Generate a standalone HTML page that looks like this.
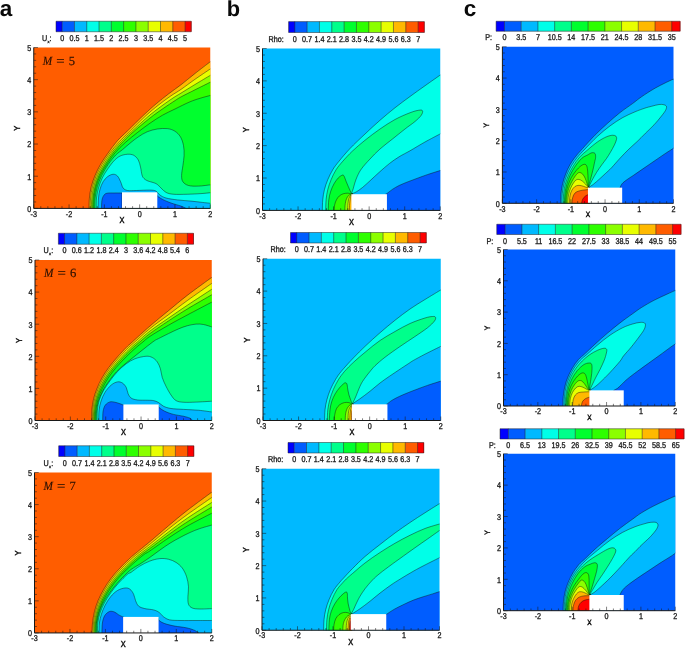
<!DOCTYPE html><html><head><meta charset="utf-8"><title>fig</title>
<style>html,body{margin:0;padding:0;background:#fff}svg{display:block;will-change:transform}text{font-family:"Liberation Sans",sans-serif;text-rendering:geometricPrecision}.pl text{font-weight:bold;font-size:22.5px;fill:#0a0a0a}text.ser{font-family:"Liberation Serif",serif}</style></head><body>
<svg width="685" height="648" viewBox="0 0 685 648">
<rect width="685" height="648" fill="#fff"/>
<clipPath id="clip_a1"><rect x="33.75" y="47.50" width="176.50" height="160.90"/></clipPath>
<rect x="33.75" y="47.50" width="176.50" height="160.90" fill="#FF5D00"/>
<g clip-path="url(#clip_a1)" stroke="#101010" stroke-width="0.45" stroke-linejoin="round">
<path d="M89.00 209.00 C89.07 207.17 89.03 201.71 89.40 198.00 C89.78 194.29 90.32 190.50 91.25 186.75 C92.18 183.00 93.44 179.25 95.00 175.50 C96.56 171.75 98.42 168.00 100.60 164.25 C102.78 160.50 105.28 156.94 108.10 153.00 C110.92 149.06 114.27 144.28 117.50 140.60 C120.73 136.92 123.12 135.17 127.50 130.90 C131.88 126.63 138.96 119.53 143.75 115.00 C148.54 110.47 152.08 107.29 156.25 103.75 C160.42 100.21 164.62 96.92 168.75 93.75 C172.88 90.58 176.62 88.12 181.00 84.75 C185.38 81.38 190.08 77.36 195.00 73.50 C199.92 69.64 207.92 63.58 210.50 61.60 L216.25 61.60 L216.25 214.40 L89.00 214.40 Z" fill="#FFB900"/>
<path d="M90.20 209.00 C90.27 207.17 90.22 201.71 90.60 198.00 C90.98 194.29 91.55 190.50 92.50 186.75 C93.45 183.00 94.68 179.25 96.30 175.50 C97.92 171.75 99.94 168.00 102.20 164.25 C104.46 160.50 106.97 156.75 109.84 153.00 C112.71 149.25 116.14 145.29 119.42 141.75 C122.70 138.21 125.10 136.07 129.50 131.75 C133.90 127.42 140.97 120.26 145.80 115.80 C150.63 111.34 154.30 108.33 158.50 105.00 C162.70 101.67 167.25 98.40 171.00 95.80 C174.75 93.20 177.00 92.15 181.00 89.40 C185.00 86.65 190.08 82.73 195.00 79.30 C199.92 75.87 207.92 70.55 210.50 68.80 L216.25 68.80 L216.25 214.40 L90.20 214.40 Z" fill="#E8FF00"/>
<path d="M91.40 209.00 C91.47 207.17 91.42 201.71 91.80 198.00 C92.18 194.29 92.73 190.50 93.70 186.75 C94.67 183.00 95.93 179.25 97.60 175.50 C99.27 171.75 101.40 168.00 103.70 164.25 C106.00 160.50 108.50 156.75 111.42 153.00 C114.34 149.25 117.86 145.29 121.21 141.75 C124.56 138.21 127.07 135.91 131.50 131.75 C135.93 127.59 142.92 120.99 147.80 116.80 C152.68 112.61 156.60 109.73 160.80 106.60 C165.00 103.47 169.63 100.25 173.00 98.00 C176.37 95.75 177.33 95.35 181.00 93.10 C184.67 90.85 190.08 87.48 195.00 84.50 C199.92 81.52 207.92 76.75 210.50 75.20 L216.25 75.20 L216.25 214.40 L91.40 214.40 Z" fill="#8BFF00"/>
<path d="M92.60 209.00 C92.67 207.17 92.60 201.71 93.00 198.00 C93.40 194.29 94.00 190.50 95.00 186.75 C96.00 183.00 97.28 179.25 99.00 175.50 C100.72 171.75 102.95 168.00 105.30 164.25 C107.65 160.50 110.13 156.75 113.10 153.00 C116.07 149.25 119.70 145.29 123.10 141.75 C126.50 138.21 129.02 135.71 133.50 131.75 C137.98 127.79 145.08 121.86 150.00 118.00 C154.92 114.14 158.83 111.50 163.00 108.60 C167.17 105.70 172.00 102.55 175.00 100.60 C178.00 98.65 177.67 98.70 181.00 96.90 C184.33 95.10 190.08 92.27 195.00 89.80 C199.92 87.33 207.92 83.38 210.50 82.10 L216.25 82.10 L216.25 214.40 L92.60 214.40 Z" fill="#2EFF00"/>
<path d="M93.60 209.00 C93.67 207.17 93.60 201.71 94.00 198.00 C94.40 194.29 94.97 190.50 96.00 186.75 C97.03 183.00 98.40 179.25 100.20 175.50 C102.00 171.75 104.35 168.00 106.80 164.25 C109.25 160.50 111.82 156.62 114.90 153.00 C117.98 149.38 121.53 145.92 125.30 142.50 C129.07 139.08 133.38 135.72 137.50 132.50 C141.62 129.28 145.83 126.08 150.00 123.20 C154.17 120.32 158.33 117.57 162.50 115.20 C166.67 112.83 170.50 111.20 175.00 109.00 C179.50 106.80 185.33 103.78 189.50 102.00 C193.67 100.22 196.50 99.40 200.00 98.30 C203.50 97.20 208.75 95.88 210.50 95.40 L216.25 95.40 L216.25 214.40 L93.60 214.40 Z" fill="#00FF2E"/>
<path d="M94.70 209.00 C94.77 207.17 94.67 201.71 95.10 198.00 C95.53 194.29 96.20 190.50 97.30 186.75 C98.40 183.00 99.87 179.25 101.70 175.50 C103.53 171.75 105.95 167.67 108.30 164.25 C110.65 160.83 113.41 157.46 115.80 155.00 C118.19 152.54 120.12 151.60 122.65 149.50 C125.18 147.40 128.36 144.53 131.00 142.40 C133.64 140.28 135.79 138.53 138.50 136.75 C141.21 134.97 144.12 133.04 147.25 131.75 C150.38 130.46 153.92 129.53 157.25 129.00 C160.58 128.47 164.33 128.25 167.25 128.60 C170.17 128.95 172.56 129.74 174.75 131.10 C176.94 132.46 178.94 134.35 180.40 136.75 C181.86 139.15 182.88 142.38 183.50 145.50 C184.12 148.62 184.20 152.17 184.10 155.50 C184.00 158.83 183.32 162.17 182.90 165.50 C182.48 168.83 181.60 172.79 181.60 175.50 C181.60 178.21 181.75 180.08 182.90 181.75 C184.05 183.42 185.90 184.78 188.50 185.50 C191.10 186.22 194.83 186.22 198.50 186.10 C202.17 185.98 208.50 185.02 210.50 184.80 L216.25 184.80 L216.25 214.40 L94.70 214.40 Z" fill="#00FF8B"/>
<path d="M96.25 209.00 C96.29 207.17 96.12 201.50 96.50 198.00 C96.88 194.50 97.54 191.33 98.50 188.00 C99.46 184.67 100.75 181.12 102.25 178.00 C103.75 174.88 105.58 172.07 107.50 169.25 C109.42 166.43 111.67 163.29 113.75 161.10 C115.83 158.91 117.71 157.24 120.00 156.10 C122.29 154.96 125.21 154.38 127.50 154.25 C129.79 154.12 131.95 154.34 133.75 155.30 C135.55 156.26 137.18 158.05 138.30 160.00 C139.43 161.95 139.88 164.50 140.50 167.00 C141.12 169.50 141.42 173.08 142.00 175.00 C142.58 176.92 143.00 177.50 144.00 178.50 C145.00 179.50 146.00 180.15 148.00 181.00 C150.00 181.85 153.83 182.43 156.00 183.60 C158.17 184.77 159.33 186.53 161.00 188.00 C162.67 189.47 163.92 191.36 166.00 192.40 C168.08 193.44 169.96 193.94 173.50 194.25 C177.04 194.56 182.67 194.36 187.25 194.25 C191.83 194.14 197.12 193.86 201.00 193.60 C204.88 193.34 208.92 192.85 210.50 192.70 L216.25 192.70 L216.25 214.40 L96.25 214.40 Z" fill="#00FFE8"/>
<path d="M98.10 209.00 C98.17 207.17 98.18 201.29 98.50 198.00 C98.82 194.71 99.23 191.96 100.00 189.25 C100.77 186.54 101.85 183.83 103.10 181.75 C104.35 179.67 105.83 178.00 107.50 176.75 C109.17 175.50 111.43 174.36 113.10 174.25 C114.77 174.14 116.25 174.85 117.50 176.10 C118.75 177.35 119.67 179.77 120.60 181.75 C121.53 183.73 121.95 186.54 123.10 188.00 C124.25 189.46 125.31 190.08 127.50 190.50 C129.69 190.92 132.54 190.57 136.25 190.50 C139.96 190.43 146.46 190.00 149.75 190.10 C153.04 190.20 154.33 190.30 156.00 191.10 C157.67 191.90 158.08 193.75 159.75 194.90 C161.42 196.05 163.08 197.17 166.00 198.00 C168.92 198.83 173.08 199.38 177.25 199.90 C181.42 200.42 186.83 200.68 191.00 201.10 C195.17 201.52 199.00 202.03 202.25 202.40 C205.50 202.77 209.12 203.15 210.50 203.30 L216.25 203.30 L216.25 214.40 L98.10 214.40 Z" fill="#00B9FF"/>
<path d="M101.50 209.00 C101.57 207.58 101.53 202.75 101.90 200.50 C102.28 198.25 102.92 196.71 103.75 195.50 C104.58 194.29 105.19 193.67 106.90 193.25 C108.61 192.83 111.61 193.04 114.00 193.00 C116.39 192.96 120.04 193.00 121.25 193.00 L122.00 193.00 L122.00 215.00 L101.50 215.00 Z" fill="#005DFF"/>
<path d="M156.90 193.00 C156.90 193.42 156.01 194.46 156.90 195.50 C157.79 196.54 159.90 198.00 162.25 199.25 C164.60 200.50 167.88 201.86 171.00 203.00 C174.12 204.14 178.50 205.20 181.00 206.10 C183.50 207.00 184.67 207.75 186.00 208.40 C187.33 209.05 188.50 209.73 189.00 210.00 L189.00 215.00 L156.00 215.00 L156.00 193.00 Z" fill="#005DFF"/>
<rect x="122.00" y="192.31" width="35.30" height="18.09" fill="#fff" stroke="none"/>
</g>
<g stroke="#181818" stroke-width="1.0" fill="none">
<path d="M33.75 47.50 V208.40 H210.25"/>
<path d="M33.75 208.40 h4.20 M33.75 201.96 h2.40 M33.75 195.53 h2.40 M33.75 189.09 h2.40 M33.75 182.66 h2.40 M33.75 176.22 h4.20 M33.75 169.78 h2.40 M33.75 163.35 h2.40 M33.75 156.91 h2.40 M33.75 150.48 h2.40 M33.75 144.04 h4.20 M33.75 137.60 h2.40 M33.75 131.17 h2.40 M33.75 124.73 h2.40 M33.75 118.30 h2.40 M33.75 111.86 h4.20 M33.75 105.42 h2.40 M33.75 98.99 h2.40 M33.75 92.55 h2.40 M33.75 86.12 h2.40 M33.75 79.68 h4.20 M33.75 73.24 h2.40 M33.75 66.81 h2.40 M33.75 60.37 h2.40 M33.75 53.94 h2.40 M33.75 47.50 h4.20 M33.75 208.40 v-4.00 M40.81 208.40 v-2.20 M47.87 208.40 v-2.20 M54.93 208.40 v-2.20 M61.99 208.40 v-2.20 M69.05 208.40 v-4.00 M76.11 208.40 v-2.20 M83.17 208.40 v-2.20 M90.23 208.40 v-2.20 M97.29 208.40 v-2.20 M104.35 208.40 v-4.00 M111.41 208.40 v-2.20 M118.47 208.40 v-2.20 M125.53 208.40 v-2.20 M132.59 208.40 v-2.20 M139.65 208.40 v-4.00 M146.71 208.40 v-2.20 M153.77 208.40 v-2.20 M160.83 208.40 v-2.20 M167.89 208.40 v-2.20 M174.95 208.40 v-4.00 M182.01 208.40 v-2.20 M189.07 208.40 v-2.20 M196.13 208.40 v-2.20 M203.19 208.40 v-2.20 M210.25 208.40 v-4.00 " stroke-width="0.55" stroke="#1a1a1a"/>
</g>
<g fill="#151515" stroke="#151515" stroke-width="0.27">
<text transform="translate(31.15 211.70) scale(1 1.170)" font-size="7.20" text-anchor="end">0</text>
<text transform="translate(31.15 179.52) scale(1 1.170)" font-size="7.20" text-anchor="end">1</text>
<text transform="translate(31.15 147.34) scale(1 1.170)" font-size="7.20" text-anchor="end">2</text>
<text transform="translate(31.15 115.16) scale(1 1.170)" font-size="7.20" text-anchor="end">3</text>
<text transform="translate(31.15 82.98) scale(1 1.170)" font-size="7.20" text-anchor="end">4</text>
<text transform="translate(31.15 50.80) scale(1 1.170)" font-size="7.20" text-anchor="end">5</text>
<text transform="translate(33.75 216.60) scale(1 1.170)" font-size="7.20" text-anchor="middle">-3</text>
<text transform="translate(69.05 216.60) scale(1 1.170)" font-size="7.20" text-anchor="middle">-2</text>
<text transform="translate(104.35 216.60) scale(1 1.170)" font-size="7.20" text-anchor="middle">-1</text>
<text transform="translate(139.65 216.60) scale(1 1.170)" font-size="7.20" text-anchor="middle">0</text>
<text transform="translate(174.95 216.60) scale(1 1.170)" font-size="7.20" text-anchor="middle">1</text>
<text transform="translate(210.25 216.60) scale(1 1.170)" font-size="7.20" text-anchor="middle">2</text>
<text stroke-width="0.4" transform="translate(122.00 222.90) scale(1 1.170)" font-size="7.40" text-anchor="middle">X</text>
<text stroke-width="0.4" transform="translate(20.25 128.25) rotate(-90) scale(1 1.170)" font-size="7.40" text-anchor="middle">Y</text>
</g>
<rect x="56.00" y="21.25" width="6.45" height="10.50" fill="#0000FF"/>
<rect x="62.15" y="21.25" width="12.60" height="10.50" fill="#005DFF"/>
<rect x="74.44" y="21.25" width="12.60" height="10.50" fill="#00B9FF"/>
<rect x="86.74" y="21.25" width="12.60" height="10.50" fill="#00FFE8"/>
<rect x="99.03" y="21.25" width="12.60" height="10.50" fill="#00FF8B"/>
<rect x="111.33" y="21.25" width="12.60" height="10.50" fill="#00FF2E"/>
<rect x="123.62" y="21.25" width="12.60" height="10.50" fill="#2EFF00"/>
<rect x="135.92" y="21.25" width="12.60" height="10.50" fill="#8BFF00"/>
<rect x="148.22" y="21.25" width="12.60" height="10.50" fill="#E8FF00"/>
<rect x="160.51" y="21.25" width="12.60" height="10.50" fill="#FFB900"/>
<rect x="172.81" y="21.25" width="12.60" height="10.50" fill="#FF5D00"/>
<rect x="185.10" y="21.25" width="6.45" height="10.50" fill="#FF0000"/>
<path d="M56.00 21.25 H191.25 V31.75 H56.00 Z M62.15 21.25 V31.75 M74.44 21.25 V31.75 M86.74 21.25 V31.75 M99.03 21.25 V31.75 M111.33 21.25 V31.75 M123.62 21.25 V31.75 M135.92 21.25 V31.75 M148.22 21.25 V31.75 M160.51 21.25 V31.75 M172.81 21.25 V31.75 M185.10 21.25 V31.75 " stroke="#202020" stroke-width="0.5" fill="none"/>
<g fill="#151515" stroke="#151515" stroke-width="0.27">
<text transform="translate(62.15 40.95) scale(1 1.170)" font-size="7.20" text-anchor="middle">0</text>
<text transform="translate(74.44 40.95) scale(1 1.170)" font-size="7.20" text-anchor="middle">0.5</text>
<text transform="translate(86.74 40.95) scale(1 1.170)" font-size="7.20" text-anchor="middle">1</text>
<text transform="translate(99.03 40.95) scale(1 1.170)" font-size="7.20" text-anchor="middle">1.5</text>
<text transform="translate(111.33 40.95) scale(1 1.170)" font-size="7.20" text-anchor="middle">2</text>
<text transform="translate(123.62 40.95) scale(1 1.170)" font-size="7.20" text-anchor="middle">2.5</text>
<text transform="translate(135.92 40.95) scale(1 1.170)" font-size="7.20" text-anchor="middle">3</text>
<text transform="translate(148.22 40.95) scale(1 1.170)" font-size="7.20" text-anchor="middle">3.5</text>
<text transform="translate(160.51 40.95) scale(1 1.170)" font-size="7.20" text-anchor="middle">4</text>
<text transform="translate(172.81 40.95) scale(1 1.170)" font-size="7.20" text-anchor="middle">4.5</text>
<text transform="translate(185.10 40.95) scale(1 1.170)" font-size="7.20" text-anchor="middle">5</text>
<text transform="translate(42.00 40.95) scale(1 1.170)" font-size="7.20">U</text>
<text transform="translate(48.50 42.85) scale(1 1.000)" font-size="4.00" text-anchor="middle">x</text>
<text transform="translate(49.60 40.95) scale(1 1.170)" font-size="7.20">:</text>
</g>
<g class="ser" fill="#2a1000" stroke="#2a1000" stroke-width="0.16" font-size="12.6">
<text class="ser" x="0.00" y="64.60" font-style="italic" transform="translate(42.65 0) scale(0.9 1)">M</text>
<text class="ser" x="0.00" y="64.80" transform="translate(56.35 0) scale(1.18 1)">=</text>
<text class="ser" x="68.75" y="64.60">5</text>
</g>
<clipPath id="clip_a2"><rect x="35.00" y="260.00" width="176.75" height="160.50"/></clipPath>
<rect x="35.00" y="260.00" width="176.75" height="160.50" fill="#FF5D00"/>
<g clip-path="url(#clip_a2)" stroke="#101010" stroke-width="0.45" stroke-linejoin="round">
<path d="M91.60 421.00 C91.63 419.17 91.47 413.71 91.80 410.00 C92.13 406.29 92.75 402.29 93.60 398.75 C94.45 395.21 95.52 392.19 96.90 388.75 C98.28 385.31 99.93 381.64 101.90 378.10 C103.88 374.56 106.15 371.03 108.75 367.50 C111.35 363.97 114.58 360.23 117.50 356.90 C120.42 353.57 123.79 349.98 126.25 347.50 C128.71 345.02 128.29 345.58 132.25 342.00 C136.21 338.42 143.96 331.22 150.00 326.00 C156.04 320.78 162.29 315.80 168.50 310.70 C174.71 305.60 180.00 300.98 187.25 295.40 C194.50 289.82 207.88 280.23 212.00 277.20 L217.75 277.20 L217.75 426.50 L91.60 426.50 Z" fill="#FFB900"/>
<path d="M92.50 421.00 C92.54 419.17 92.40 413.71 92.77 410.00 C93.14 406.29 93.81 402.29 94.71 398.75 C95.61 395.21 96.73 392.19 98.18 388.75 C99.63 385.31 101.35 381.64 103.40 378.10 C105.46 374.56 107.82 371.03 110.51 367.50 C113.20 363.97 116.53 360.23 119.55 356.90 C122.56 353.57 126.04 349.98 128.58 347.50 C131.11 345.02 131.18 345.17 134.75 342.00 C138.32 338.83 144.38 333.05 150.00 328.50 C155.62 323.95 162.29 319.35 168.50 314.70 C174.71 310.05 180.00 305.85 187.25 300.60 C194.50 295.35 207.88 286.10 212.00 283.20 L217.75 283.20 L217.75 426.50 L92.50 426.50 Z" fill="#E8FF00"/>
<path d="M93.40 421.00 C93.46 419.17 93.33 413.71 93.74 410.00 C94.14 406.29 94.87 402.29 95.82 398.75 C96.78 395.21 97.95 392.19 99.46 388.75 C100.98 385.31 102.77 381.64 104.90 378.10 C107.04 374.56 109.48 371.03 112.27 367.50 C115.05 363.97 118.48 360.23 121.59 356.90 C124.70 353.57 128.29 349.98 130.90 347.50 C133.51 345.02 134.07 344.75 137.25 342.00 C140.43 339.25 144.79 334.98 150.00 331.00 C155.21 327.02 162.29 322.38 168.50 318.10 C174.71 313.82 180.00 310.13 187.25 305.30 C194.50 300.47 207.88 291.80 212.00 289.10 L217.75 289.10 L217.75 426.50 L93.40 426.50 Z" fill="#8BFF00"/>
<path d="M94.30 421.00 C94.37 419.17 94.27 413.71 94.70 410.00 C95.14 406.29 95.93 402.29 96.93 398.75 C97.94 395.21 99.17 392.19 100.74 388.75 C102.32 385.31 104.19 381.64 106.41 378.10 C108.62 374.56 111.15 371.03 114.02 367.50 C116.89 363.97 120.44 360.23 123.64 356.90 C126.84 353.57 130.54 349.98 133.23 347.50 C135.91 345.02 136.95 344.33 139.75 342.00 C142.55 339.67 145.21 337.02 150.00 333.50 C154.79 329.98 162.29 324.98 168.50 320.90 C174.71 316.82 180.00 313.38 187.25 309.00 C194.50 304.62 207.88 297.00 212.00 294.60 L217.75 294.60 L217.75 426.50 L94.30 426.50 Z" fill="#2EFF00"/>
<path d="M95.20 421.00 C95.28 419.17 95.21 413.71 95.70 410.00 C96.19 406.29 97.05 402.29 98.13 398.75 C99.21 395.21 100.51 392.19 102.18 388.75 C103.85 385.31 105.83 381.64 108.15 378.10 C110.48 374.56 113.13 371.03 116.13 367.50 C119.13 363.97 122.81 360.23 126.15 356.90 C129.48 353.57 133.34 349.98 136.13 347.50 C138.92 345.02 140.59 343.87 142.90 342.00 C145.21 340.13 145.73 339.10 150.00 336.30 C154.27 333.50 162.29 328.75 168.50 325.20 C174.71 321.65 180.00 318.87 187.25 315.00 C194.50 311.13 207.88 304.17 212.00 302.00 L217.75 302.00 L217.75 426.50 L95.20 426.50 Z" fill="#00FF2E"/>
<path d="M96.20 421.00 C96.25 419.38 96.13 414.54 96.50 411.25 C96.87 407.96 97.40 404.58 98.40 401.25 C99.40 397.92 100.78 394.58 102.50 391.25 C104.22 387.92 106.46 384.46 108.75 381.25 C111.04 378.04 113.54 374.88 116.25 372.00 C118.96 369.12 121.88 366.67 125.00 364.00 C128.12 361.33 131.67 358.67 135.00 356.00 C138.33 353.33 141.82 350.50 145.00 348.00 C148.18 345.50 151.85 342.57 154.10 341.00 C156.35 339.43 156.10 339.83 158.50 338.60 C160.90 337.37 165.17 335.22 168.50 333.60 C171.83 331.98 175.38 330.21 178.50 328.90 C181.62 327.59 184.33 326.55 187.25 325.75 C190.17 324.95 193.29 324.31 196.00 324.10 C198.71 323.89 200.83 324.02 203.50 324.50 C206.17 324.98 210.58 326.58 212.00 327.00 L217.75 327.00 L217.75 426.50 L96.20 426.50 Z" fill="#00FF8B"/>
<path d="M97.10 421.00 C97.15 419.17 97.03 413.50 97.40 410.00 C97.77 406.50 98.23 403.33 99.30 400.00 C100.37 396.67 101.92 393.33 103.80 390.00 C105.68 386.67 108.27 383.12 110.60 380.00 C112.93 376.88 115.19 373.96 117.80 371.25 C120.41 368.54 123.38 365.83 126.25 363.75 C129.12 361.67 131.71 360.00 135.00 358.75 C138.29 357.50 143.12 356.46 146.00 356.25 C148.88 356.04 150.38 356.56 152.25 357.50 C154.12 358.44 155.89 360.02 157.25 361.90 C158.61 363.77 159.57 366.15 160.40 368.75 C161.23 371.35 161.32 374.58 162.25 377.50 C163.18 380.42 164.54 383.33 166.00 386.25 C167.46 389.17 169.33 392.61 171.00 395.00 C172.67 397.39 173.92 399.39 176.00 400.60 C178.08 401.81 180.17 402.00 183.50 402.25 C186.83 402.50 191.25 402.28 196.00 402.10 C200.75 401.93 209.33 401.35 212.00 401.20 L217.75 401.20 L217.75 426.50 L97.10 426.50 Z" fill="#00FFE8"/>
<path d="M98.70 421.00 C98.77 419.17 98.72 413.29 99.10 410.00 C99.48 406.71 100.03 404.17 101.00 401.25 C101.97 398.33 103.19 395.21 104.90 392.50 C106.61 389.79 109.15 386.77 111.25 385.00 C113.35 383.23 115.62 382.22 117.50 381.90 C119.38 381.58 121.04 382.17 122.50 383.10 C123.96 384.03 125.32 385.73 126.25 387.50 C127.18 389.27 127.27 391.98 128.10 393.75 C128.93 395.52 129.68 397.06 131.25 398.10 C132.82 399.14 134.79 399.64 137.50 400.00 C140.21 400.36 144.83 400.15 147.50 400.25 C150.17 400.35 151.67 400.23 153.50 400.60 C155.33 400.98 156.83 401.56 158.50 402.50 C160.17 403.44 161.42 405.25 163.50 406.25 C165.58 407.25 167.67 407.98 171.00 408.50 C174.33 409.02 178.92 409.11 183.50 409.40 C188.08 409.69 193.75 409.82 198.50 410.25 C203.25 410.68 209.75 411.71 212.00 412.00 L217.75 412.00 L217.75 426.50 L98.70 426.50 Z" fill="#00B9FF"/>
<path d="M102.70 421.00 C102.77 419.38 102.65 413.92 103.10 411.25 C103.55 408.58 104.25 406.56 105.40 405.00 C106.55 403.44 108.40 402.36 110.00 401.90 C111.60 401.44 113.33 401.94 115.00 402.25 C116.67 402.56 118.65 403.29 120.00 403.75 C121.35 404.21 122.58 404.79 123.10 405.00 L124.38 405.00 L124.38 426.50 L102.70 426.50 Z" fill="#005DFF"/>
<path d="M157.90 405.00 C158.10 405.42 157.96 406.46 159.10 407.50 C160.24 408.54 162.35 410.10 164.75 411.25 C167.15 412.40 170.38 413.57 173.50 414.40 C176.62 415.23 180.79 415.63 183.50 416.25 C186.21 416.87 188.29 417.48 189.75 418.10 C191.21 418.73 191.54 419.35 192.25 420.00 C192.96 420.65 193.71 421.67 194.00 422.00 L194.00 426.50 L157.72 426.50 L157.72 405.00 Z" fill="#005DFF"/>
<rect x="123.38" y="404.45" width="35.35" height="18.05" fill="#fff" stroke="none"/>
</g>
<g stroke="#181818" stroke-width="1.0" fill="none">
<path d="M35.00 260.00 V420.50 H211.75"/>
<path d="M35.00 420.50 h4.20 M35.00 414.08 h2.40 M35.00 407.66 h2.40 M35.00 401.24 h2.40 M35.00 394.82 h2.40 M35.00 388.40 h4.20 M35.00 381.98 h2.40 M35.00 375.56 h2.40 M35.00 369.14 h2.40 M35.00 362.72 h2.40 M35.00 356.30 h4.20 M35.00 349.88 h2.40 M35.00 343.46 h2.40 M35.00 337.04 h2.40 M35.00 330.62 h2.40 M35.00 324.20 h4.20 M35.00 317.78 h2.40 M35.00 311.36 h2.40 M35.00 304.94 h2.40 M35.00 298.52 h2.40 M35.00 292.10 h4.20 M35.00 285.68 h2.40 M35.00 279.26 h2.40 M35.00 272.84 h2.40 M35.00 266.42 h2.40 M35.00 260.00 h4.20 M35.00 420.50 v-4.00 M42.07 420.50 v-2.20 M49.14 420.50 v-2.20 M56.21 420.50 v-2.20 M63.28 420.50 v-2.20 M70.35 420.50 v-4.00 M77.42 420.50 v-2.20 M84.49 420.50 v-2.20 M91.56 420.50 v-2.20 M98.63 420.50 v-2.20 M105.70 420.50 v-4.00 M112.77 420.50 v-2.20 M119.84 420.50 v-2.20 M126.91 420.50 v-2.20 M133.98 420.50 v-2.20 M141.05 420.50 v-4.00 M148.12 420.50 v-2.20 M155.19 420.50 v-2.20 M162.26 420.50 v-2.20 M169.33 420.50 v-2.20 M176.40 420.50 v-4.00 M183.47 420.50 v-2.20 M190.54 420.50 v-2.20 M197.61 420.50 v-2.20 M204.68 420.50 v-2.20 M211.75 420.50 v-4.00 " stroke-width="0.55" stroke="#1a1a1a"/>
</g>
<g fill="#151515" stroke="#151515" stroke-width="0.27">
<text transform="translate(32.40 423.80) scale(1 1.170)" font-size="7.20" text-anchor="end">0</text>
<text transform="translate(32.40 391.70) scale(1 1.170)" font-size="7.20" text-anchor="end">1</text>
<text transform="translate(32.40 359.60) scale(1 1.170)" font-size="7.20" text-anchor="end">2</text>
<text transform="translate(32.40 327.50) scale(1 1.170)" font-size="7.20" text-anchor="end">3</text>
<text transform="translate(32.40 295.40) scale(1 1.170)" font-size="7.20" text-anchor="end">4</text>
<text transform="translate(32.40 263.30) scale(1 1.170)" font-size="7.20" text-anchor="end">5</text>
<text transform="translate(35.00 428.70) scale(1 1.170)" font-size="7.20" text-anchor="middle">-3</text>
<text transform="translate(70.35 428.70) scale(1 1.170)" font-size="7.20" text-anchor="middle">-2</text>
<text transform="translate(105.70 428.70) scale(1 1.170)" font-size="7.20" text-anchor="middle">-1</text>
<text transform="translate(141.05 428.70) scale(1 1.170)" font-size="7.20" text-anchor="middle">0</text>
<text transform="translate(176.40 428.70) scale(1 1.170)" font-size="7.20" text-anchor="middle">1</text>
<text transform="translate(211.75 428.70) scale(1 1.170)" font-size="7.20" text-anchor="middle">2</text>
<text stroke-width="0.4" transform="translate(123.38 435.00) scale(1 1.170)" font-size="7.40" text-anchor="middle">X</text>
<text stroke-width="0.4" transform="translate(21.50 340.55) rotate(-90) scale(1 1.170)" font-size="7.40" text-anchor="middle">Y</text>
</g>
<rect x="58.40" y="233.25" width="6.44" height="11.00" fill="#0000FF"/>
<rect x="64.54" y="233.25" width="12.58" height="11.00" fill="#005DFF"/>
<rect x="76.82" y="233.25" width="12.58" height="11.00" fill="#00B9FF"/>
<rect x="89.10" y="233.25" width="12.58" height="11.00" fill="#00FFE8"/>
<rect x="101.39" y="233.25" width="12.58" height="11.00" fill="#00FF8B"/>
<rect x="113.67" y="233.25" width="12.58" height="11.00" fill="#00FF2E"/>
<rect x="125.95" y="233.25" width="12.58" height="11.00" fill="#2EFF00"/>
<rect x="138.23" y="233.25" width="12.58" height="11.00" fill="#8BFF00"/>
<rect x="150.51" y="233.25" width="12.58" height="11.00" fill="#E8FF00"/>
<rect x="162.80" y="233.25" width="12.58" height="11.00" fill="#FFB900"/>
<rect x="175.08" y="233.25" width="12.58" height="11.00" fill="#FF5D00"/>
<rect x="187.36" y="233.25" width="6.44" height="11.00" fill="#FF0000"/>
<path d="M58.40 233.25 H193.50 V244.25 H58.40 Z M64.54 233.25 V244.25 M76.82 233.25 V244.25 M89.10 233.25 V244.25 M101.39 233.25 V244.25 M113.67 233.25 V244.25 M125.95 233.25 V244.25 M138.23 233.25 V244.25 M150.51 233.25 V244.25 M162.80 233.25 V244.25 M175.08 233.25 V244.25 M187.36 233.25 V244.25 " stroke="#202020" stroke-width="0.5" fill="none"/>
<g fill="#151515" stroke="#151515" stroke-width="0.27">
<text transform="translate(64.54 253.45) scale(1 1.170)" font-size="7.20" text-anchor="middle">0</text>
<text transform="translate(76.82 253.45) scale(1 1.170)" font-size="7.20" text-anchor="middle">0.6</text>
<text transform="translate(89.10 253.45) scale(1 1.170)" font-size="7.20" text-anchor="middle">1.2</text>
<text transform="translate(101.39 253.45) scale(1 1.170)" font-size="7.20" text-anchor="middle">1.8</text>
<text transform="translate(113.67 253.45) scale(1 1.170)" font-size="7.20" text-anchor="middle">2.4</text>
<text transform="translate(125.95 253.45) scale(1 1.170)" font-size="7.20" text-anchor="middle">3</text>
<text transform="translate(138.23 253.45) scale(1 1.170)" font-size="7.20" text-anchor="middle">3.6</text>
<text transform="translate(150.51 253.45) scale(1 1.170)" font-size="7.20" text-anchor="middle">4.2</text>
<text transform="translate(162.80 253.45) scale(1 1.170)" font-size="7.20" text-anchor="middle">4.8</text>
<text transform="translate(175.08 253.45) scale(1 1.170)" font-size="7.20" text-anchor="middle">5.4</text>
<text transform="translate(187.36 253.45) scale(1 1.170)" font-size="7.20" text-anchor="middle">6</text>
<text transform="translate(43.60 253.45) scale(1 1.170)" font-size="7.20">U</text>
<text transform="translate(50.10 255.35) scale(1 1.000)" font-size="4.00" text-anchor="middle">x</text>
<text transform="translate(51.20 253.45) scale(1 1.170)" font-size="7.20">:</text>
</g>
<g class="ser" fill="#2a1000" stroke="#2a1000" stroke-width="0.16" font-size="12.6">
<text class="ser" x="0.00" y="277.10" font-style="italic" transform="translate(43.90 0) scale(0.9 1)">M</text>
<text class="ser" x="0.00" y="277.30" transform="translate(57.60 0) scale(1.18 1)">=</text>
<text class="ser" x="70.00" y="277.10">6</text>
</g>
<clipPath id="clip_a3"><rect x="34.50" y="472.50" width="177.25" height="160.45"/></clipPath>
<rect x="34.50" y="472.50" width="177.25" height="160.45" fill="#FF5D00"/>
<g clip-path="url(#clip_a3)" stroke="#101010" stroke-width="0.45" stroke-linejoin="round">
<path d="M91.90 633.50 C92.00 631.75 92.08 626.62 92.50 623.00 C92.92 619.38 93.47 615.50 94.40 611.75 C95.33 608.00 96.54 604.25 98.10 600.50 C99.66 596.75 101.56 593.00 103.75 589.25 C105.94 585.50 108.54 581.54 111.25 578.00 C113.96 574.46 117.08 571.12 120.00 568.00 C122.92 564.88 126.29 561.58 128.75 559.25 C131.21 556.92 131.25 556.91 134.75 554.00 C138.25 551.09 144.12 546.50 149.75 541.80 C155.38 537.10 162.25 531.03 168.50 525.80 C174.75 520.57 180.00 516.03 187.25 510.40 C194.50 504.77 207.88 495.07 212.00 492.00 L217.75 492.00 L217.75 638.95 L91.90 638.95 Z" fill="#FFB900"/>
<path d="M92.80 633.50 C92.91 631.75 93.01 626.62 93.46 623.00 C93.91 619.38 94.51 615.50 95.50 611.75 C96.49 608.00 97.76 604.25 99.39 600.50 C101.02 596.75 103.00 593.00 105.28 589.25 C107.55 585.50 110.25 581.54 113.05 578.00 C115.85 574.46 119.07 571.12 122.07 568.00 C125.08 564.88 128.55 561.58 131.08 559.25 C133.61 556.92 134.14 556.49 137.25 554.00 C140.36 551.51 144.54 548.48 149.75 544.30 C154.96 540.12 162.25 533.85 168.50 528.90 C174.75 523.95 180.00 519.87 187.25 514.60 C194.50 509.33 207.88 500.18 212.00 497.30 L217.75 497.30 L217.75 638.95 L92.80 638.95 Z" fill="#E8FF00"/>
<path d="M93.70 633.50 C93.82 631.75 93.94 626.62 94.43 623.00 C94.91 619.38 95.56 615.50 96.60 611.75 C97.65 608.00 98.98 604.25 100.68 600.50 C102.38 596.75 104.44 593.00 106.80 589.25 C109.16 585.50 111.96 581.54 114.85 578.00 C117.74 574.46 121.05 571.12 124.15 568.00 C127.24 564.88 130.82 561.58 133.42 559.25 C136.02 556.92 137.03 556.12 139.75 554.00 C142.47 551.88 144.96 550.17 149.75 546.50 C154.54 542.83 162.25 536.72 168.50 532.00 C174.75 527.28 180.00 523.15 187.25 518.20 C194.50 513.25 207.88 504.95 212.00 502.30 L217.75 502.30 L217.75 638.95 L93.70 638.95 Z" fill="#8BFF00"/>
<path d="M94.60 633.50 C94.73 631.75 94.87 626.62 95.39 623.00 C95.91 619.38 96.61 615.50 97.70 611.75 C98.80 608.00 100.20 604.25 101.98 600.50 C103.75 596.75 105.88 593.00 108.33 589.25 C110.78 585.50 113.67 581.54 116.65 578.00 C119.63 574.46 123.04 571.12 126.22 568.00 C129.40 564.88 133.08 561.58 135.75 559.25 C138.42 556.92 139.92 555.77 142.25 554.00 C144.58 552.23 145.38 551.82 149.75 548.60 C154.12 545.38 162.25 539.15 168.50 534.70 C174.75 530.25 180.00 526.53 187.25 521.90 C194.50 517.27 207.88 509.40 212.00 506.90 L217.75 506.90 L217.75 638.95 L94.60 638.95 Z" fill="#2EFF00"/>
<path d="M95.50 633.50 C95.64 631.75 95.80 626.62 96.35 623.00 C96.90 619.38 97.65 615.50 98.80 611.75 C99.96 608.00 101.43 604.25 103.27 600.50 C105.11 596.75 107.33 593.00 109.86 589.25 C112.39 585.50 115.38 581.54 118.45 578.00 C121.52 574.46 125.02 571.12 128.29 568.00 C131.57 564.88 135.34 561.58 138.09 559.25 C140.83 556.92 142.81 555.38 144.75 554.00 C146.69 552.62 145.79 553.67 149.75 551.00 C153.71 548.33 162.25 542.15 168.50 538.00 C174.75 533.85 180.00 530.25 187.25 526.10 C194.50 521.95 207.88 515.27 212.00 513.10 L217.75 513.10 L217.75 638.95 L95.50 638.95 Z" fill="#00FF2E"/>
<path d="M96.50 633.50 C96.57 631.75 96.48 626.42 96.90 623.00 C97.32 619.58 97.97 616.33 99.00 613.00 C100.03 609.67 101.37 606.33 103.10 603.00 C104.83 599.67 107.12 596.23 109.40 593.00 C111.68 589.77 114.28 586.52 116.80 583.60 C119.32 580.68 122.13 577.85 124.50 575.50 C126.87 573.15 128.42 571.42 131.00 569.50 C133.58 567.58 136.83 566.03 140.00 564.00 C143.17 561.97 146.67 559.63 150.00 557.30 C153.33 554.97 156.67 552.35 160.00 550.00 C163.33 547.65 166.67 545.28 170.00 543.20 C173.33 541.12 176.67 539.28 180.00 537.50 C183.33 535.72 186.71 533.98 190.00 532.50 C193.29 531.02 196.08 529.85 199.75 528.60 C203.42 527.35 209.96 525.60 212.00 525.00 L217.75 525.00 L217.75 638.95 L96.50 638.95 Z" fill="#00FF8B"/>
<path d="M97.40 633.50 C97.47 631.75 97.37 626.42 97.80 623.00 C98.23 619.58 98.90 616.33 100.00 613.00 C101.10 609.67 102.63 606.33 104.40 603.00 C106.17 599.67 108.32 596.23 110.60 593.00 C112.88 589.77 115.28 586.73 118.10 583.60 C120.92 580.48 125.35 576.12 127.50 574.25 C129.65 572.38 128.96 573.76 131.00 572.40 C133.04 571.04 136.62 567.98 139.75 566.10 C142.88 564.22 146.42 562.35 149.75 561.10 C153.08 559.85 156.62 558.91 159.75 558.60 C162.88 558.29 165.79 558.62 168.50 559.25 C171.21 559.88 173.71 560.94 176.00 562.40 C178.29 563.86 180.48 565.61 182.25 568.00 C184.02 570.39 185.56 573.62 186.60 576.75 C187.64 579.88 188.28 583.42 188.50 586.75 C188.72 590.08 187.90 593.83 187.90 596.75 C187.90 599.67 187.78 602.38 188.50 604.25 C189.22 606.12 190.38 607.21 192.25 608.00 C194.12 608.79 196.46 608.90 199.75 609.00 C203.04 609.10 209.96 608.67 212.00 608.60 L217.75 608.60 L217.75 638.95 L97.40 638.95 Z" fill="#00FFE8"/>
<path d="M99.00 633.50 C99.07 631.75 99.00 626.21 99.40 623.00 C99.80 619.79 100.47 617.17 101.40 614.25 C102.33 611.33 103.47 608.42 105.00 605.50 C106.53 602.58 108.52 599.25 110.60 596.75 C112.68 594.25 115.10 591.96 117.50 590.50 C119.90 589.04 122.92 588.21 125.00 588.00 C127.08 587.79 128.57 588.21 130.00 589.25 C131.43 590.29 132.68 592.38 133.60 594.25 C134.52 596.12 134.67 598.52 135.50 600.50 C136.33 602.48 137.05 604.75 138.60 606.10 C140.15 607.45 142.32 607.97 144.80 608.60 C147.28 609.23 151.12 609.27 153.50 609.90 C155.88 610.53 157.43 611.26 159.10 612.40 C160.77 613.54 161.72 615.50 163.50 616.75 C165.28 618.00 166.83 619.27 169.75 619.90 C172.67 620.52 176.62 620.40 181.00 620.50 C185.38 620.60 190.83 620.50 196.00 620.50 C201.17 620.50 209.33 620.50 212.00 620.50 L217.75 620.50 L217.75 638.95 L99.00 638.95 Z" fill="#00B9FF"/>
<path d="M101.90 633.50 C101.98 631.75 101.92 626.00 102.40 623.00 C102.88 620.00 103.60 617.42 104.80 615.50 C106.00 613.58 108.00 612.08 109.60 611.50 C111.20 610.92 112.88 611.43 114.40 612.00 C115.93 612.57 117.30 614.07 118.75 614.90 C120.20 615.73 122.38 616.65 123.10 617.00 L124.12 617.00 L124.12 638.95 L101.90 638.95 Z" fill="#005DFF"/>
<path d="M157.90 617.40 C158.10 617.92 157.96 619.47 159.10 620.50 C160.24 621.53 162.14 622.67 164.75 623.60 C167.36 624.53 171.21 625.41 174.75 626.10 C178.29 626.79 182.88 627.12 186.00 627.75 C189.12 628.38 191.52 629.12 193.50 629.90 C195.48 630.67 196.82 631.63 197.90 632.40 C198.98 633.17 199.65 634.15 200.00 634.50 L200.00 638.95 L157.57 638.95 L157.57 617.40 Z" fill="#005DFF"/>
<rect x="123.12" y="616.91" width="35.45" height="18.04" fill="#fff" stroke="none"/>
</g>
<g stroke="#181818" stroke-width="1.0" fill="none">
<path d="M34.50 472.50 V632.95 H211.75"/>
<path d="M34.50 632.95 h4.20 M34.50 626.53 h2.40 M34.50 620.11 h2.40 M34.50 613.70 h2.40 M34.50 607.28 h2.40 M34.50 600.86 h4.20 M34.50 594.44 h2.40 M34.50 588.02 h2.40 M34.50 581.61 h2.40 M34.50 575.19 h2.40 M34.50 568.77 h4.20 M34.50 562.35 h2.40 M34.50 555.93 h2.40 M34.50 549.52 h2.40 M34.50 543.10 h2.40 M34.50 536.68 h4.20 M34.50 530.26 h2.40 M34.50 523.84 h2.40 M34.50 517.43 h2.40 M34.50 511.01 h2.40 M34.50 504.59 h4.20 M34.50 498.17 h2.40 M34.50 491.75 h2.40 M34.50 485.34 h2.40 M34.50 478.92 h2.40 M34.50 472.50 h4.20 M34.50 632.95 v-4.00 M41.59 632.95 v-2.20 M48.68 632.95 v-2.20 M55.77 632.95 v-2.20 M62.86 632.95 v-2.20 M69.95 632.95 v-4.00 M77.04 632.95 v-2.20 M84.13 632.95 v-2.20 M91.22 632.95 v-2.20 M98.31 632.95 v-2.20 M105.40 632.95 v-4.00 M112.49 632.95 v-2.20 M119.58 632.95 v-2.20 M126.67 632.95 v-2.20 M133.76 632.95 v-2.20 M140.85 632.95 v-4.00 M147.94 632.95 v-2.20 M155.03 632.95 v-2.20 M162.12 632.95 v-2.20 M169.21 632.95 v-2.20 M176.30 632.95 v-4.00 M183.39 632.95 v-2.20 M190.48 632.95 v-2.20 M197.57 632.95 v-2.20 M204.66 632.95 v-2.20 M211.75 632.95 v-4.00 " stroke-width="0.55" stroke="#1a1a1a"/>
</g>
<g fill="#151515" stroke="#151515" stroke-width="0.27">
<text transform="translate(31.90 636.25) scale(1 1.170)" font-size="7.20" text-anchor="end">0</text>
<text transform="translate(31.90 604.16) scale(1 1.170)" font-size="7.20" text-anchor="end">1</text>
<text transform="translate(31.90 572.07) scale(1 1.170)" font-size="7.20" text-anchor="end">2</text>
<text transform="translate(31.90 539.98) scale(1 1.170)" font-size="7.20" text-anchor="end">3</text>
<text transform="translate(31.90 507.89) scale(1 1.170)" font-size="7.20" text-anchor="end">4</text>
<text transform="translate(31.90 475.80) scale(1 1.170)" font-size="7.20" text-anchor="end">5</text>
<text transform="translate(34.50 641.15) scale(1 1.170)" font-size="7.20" text-anchor="middle">-3</text>
<text transform="translate(69.95 641.15) scale(1 1.170)" font-size="7.20" text-anchor="middle">-2</text>
<text transform="translate(105.40 641.15) scale(1 1.170)" font-size="7.20" text-anchor="middle">-1</text>
<text transform="translate(140.85 641.15) scale(1 1.170)" font-size="7.20" text-anchor="middle">0</text>
<text transform="translate(176.30 641.15) scale(1 1.170)" font-size="7.20" text-anchor="middle">1</text>
<text transform="translate(211.75 641.15) scale(1 1.170)" font-size="7.20" text-anchor="middle">2</text>
<text stroke-width="0.4" transform="translate(123.12 647.45) scale(1 1.170)" font-size="7.40" text-anchor="middle">X</text>
<text stroke-width="0.4" transform="translate(21.00 553.02) rotate(-90) scale(1 1.170)" font-size="7.40" text-anchor="middle">Y</text>
</g>
<rect x="58.70" y="445.75" width="6.44" height="10.75" fill="#0000FF"/>
<rect x="64.84" y="445.75" width="12.58" height="10.75" fill="#005DFF"/>
<rect x="77.12" y="445.75" width="12.58" height="10.75" fill="#00B9FF"/>
<rect x="89.40" y="445.75" width="12.58" height="10.75" fill="#00FFE8"/>
<rect x="101.69" y="445.75" width="12.58" height="10.75" fill="#00FF8B"/>
<rect x="113.97" y="445.75" width="12.58" height="10.75" fill="#00FF2E"/>
<rect x="126.25" y="445.75" width="12.58" height="10.75" fill="#2EFF00"/>
<rect x="138.53" y="445.75" width="12.58" height="10.75" fill="#8BFF00"/>
<rect x="150.81" y="445.75" width="12.58" height="10.75" fill="#E8FF00"/>
<rect x="163.10" y="445.75" width="12.58" height="10.75" fill="#FFB900"/>
<rect x="175.38" y="445.75" width="12.58" height="10.75" fill="#FF5D00"/>
<rect x="187.66" y="445.75" width="6.44" height="10.75" fill="#FF0000"/>
<path d="M58.70 445.75 H193.80 V456.50 H58.70 Z M64.84 445.75 V456.50 M77.12 445.75 V456.50 M89.40 445.75 V456.50 M101.69 445.75 V456.50 M113.97 445.75 V456.50 M126.25 445.75 V456.50 M138.53 445.75 V456.50 M150.81 445.75 V456.50 M163.10 445.75 V456.50 M175.38 445.75 V456.50 M187.66 445.75 V456.50 " stroke="#202020" stroke-width="0.5" fill="none"/>
<g fill="#151515" stroke="#151515" stroke-width="0.27">
<text transform="translate(64.84 465.70) scale(1 1.170)" font-size="7.20" text-anchor="middle">0</text>
<text transform="translate(77.12 465.70) scale(1 1.170)" font-size="7.20" text-anchor="middle">0.7</text>
<text transform="translate(89.40 465.70) scale(1 1.170)" font-size="7.20" text-anchor="middle">1.4</text>
<text transform="translate(101.69 465.70) scale(1 1.170)" font-size="7.20" text-anchor="middle">2.1</text>
<text transform="translate(113.97 465.70) scale(1 1.170)" font-size="7.20" text-anchor="middle">2.8</text>
<text transform="translate(126.25 465.70) scale(1 1.170)" font-size="7.20" text-anchor="middle">3.5</text>
<text transform="translate(138.53 465.70) scale(1 1.170)" font-size="7.20" text-anchor="middle">4.2</text>
<text transform="translate(150.81 465.70) scale(1 1.170)" font-size="7.20" text-anchor="middle">4.9</text>
<text transform="translate(163.10 465.70) scale(1 1.170)" font-size="7.20" text-anchor="middle">5.6</text>
<text transform="translate(175.38 465.70) scale(1 1.170)" font-size="7.20" text-anchor="middle">6.3</text>
<text transform="translate(187.66 465.70) scale(1 1.170)" font-size="7.20" text-anchor="middle">7</text>
<text transform="translate(43.60 465.70) scale(1 1.170)" font-size="7.20">U</text>
<text transform="translate(50.10 467.60) scale(1 1.000)" font-size="4.00" text-anchor="middle">x</text>
<text transform="translate(51.20 465.70) scale(1 1.170)" font-size="7.20">:</text>
</g>
<g class="ser" fill="#2a1000" stroke="#2a1000" stroke-width="0.16" font-size="12.6">
<text class="ser" x="0.00" y="489.60" font-style="italic" transform="translate(43.40 0) scale(0.9 1)">M</text>
<text class="ser" x="0.00" y="489.80" transform="translate(57.10 0) scale(1.18 1)">=</text>
<text class="ser" x="69.50" y="489.60">7</text>
</g>
<clipPath id="clip_b1"><rect x="262.50" y="48.50" width="177.75" height="161.90"/></clipPath>
<rect x="262.50" y="48.50" width="177.75" height="161.90" fill="#00B9FF"/>
<g clip-path="url(#clip_b1)" stroke="#101010" stroke-width="0.45" stroke-linejoin="round">
<path d="M322.30 211.00 C322.38 209.12 322.40 203.25 322.75 199.70 C323.10 196.15 323.57 193.03 324.40 189.70 C325.23 186.37 326.36 183.03 327.75 179.70 C329.14 176.37 330.92 172.73 332.75 169.70 C334.58 166.67 335.88 165.03 338.75 161.50 C341.62 157.97 345.62 153.08 350.00 148.50 C354.38 143.92 360.00 138.71 365.00 134.00 C370.00 129.29 375.00 124.62 380.00 120.25 C385.00 115.88 390.00 111.71 395.00 107.75 C400.00 103.79 405.00 100.17 410.00 96.50 C415.00 92.83 419.83 89.42 425.00 85.75 C430.17 82.08 438.33 76.38 441.00 74.50 L446.25 74.50 L446.25 133.50 L441.00 133.50 C438.33 134.92 430.17 139.12 425.00 142.00 C419.83 144.88 414.32 148.33 410.00 150.80 C405.68 153.27 402.50 154.70 399.10 156.80 C395.70 158.90 392.78 160.93 389.60 163.40 C386.42 165.87 383.27 168.70 380.00 171.60 C376.73 174.50 372.92 178.15 370.00 180.80 C367.08 183.45 364.79 185.65 362.50 187.50 C360.21 189.35 358.02 190.86 356.25 191.90 C354.48 192.94 352.62 193.44 351.90 193.75 L352.38 193.75 L352.38 216.40 L322.30 216.40 Z" fill="#00FFE8"/>
<path d="M325.70 211.00 C325.77 209.12 325.76 203.25 326.10 199.70 C326.44 196.15 326.92 193.03 327.75 189.70 C328.58 186.37 329.71 183.03 331.10 179.70 C332.49 176.37 334.16 172.77 336.10 169.70 C338.04 166.63 340.02 164.42 342.75 161.30 C345.48 158.18 348.79 154.51 352.50 151.00 C356.21 147.49 360.42 143.92 365.00 140.25 C369.58 136.58 375.00 132.46 380.00 129.00 C385.00 125.54 390.00 122.21 395.00 119.50 C400.00 116.79 406.04 114.29 410.00 112.75 C413.96 111.21 416.67 110.58 418.75 110.25 C420.83 109.92 422.08 109.92 422.50 110.75 C422.92 111.58 422.50 113.46 421.25 115.25 C420.00 117.04 417.71 119.21 415.00 121.50 C412.29 123.79 408.75 126.08 405.00 129.00 C401.25 131.92 396.67 135.67 392.50 139.00 C388.33 142.33 383.75 145.67 380.00 149.00 C376.25 152.33 373.08 155.70 370.00 159.00 C366.92 162.30 363.62 165.92 361.50 168.80 C359.38 171.68 358.42 173.93 357.30 176.30 C356.18 178.67 355.48 180.92 354.80 183.00 C354.12 185.08 353.75 187.07 353.20 188.80 C352.65 190.53 351.78 192.63 351.50 193.40 L352.38 193.40 L352.38 216.40 L325.70 216.40 Z" fill="#00FF8B"/>
<path d="M328.20 211.00 C328.30 209.12 328.38 202.98 328.80 199.70 C329.22 196.42 329.83 193.95 330.70 191.30 C331.57 188.65 332.75 186.02 334.00 183.80 C335.25 181.58 336.95 179.38 338.20 178.00 C339.45 176.62 340.67 175.98 341.50 175.50 C342.33 175.02 342.72 174.89 343.20 175.10 C343.68 175.31 343.92 175.72 344.40 176.75 C344.88 177.78 345.47 179.71 346.10 181.30 C346.73 182.89 347.51 184.70 348.20 186.30 C348.89 187.90 349.73 189.67 350.25 190.90 C350.77 192.13 351.12 193.23 351.30 193.70 L352.38 193.70 L352.38 216.40 L328.20 216.40 Z" fill="#00FF2E"/>
<path d="M334.00 211.00 C334.12 209.95 334.28 206.58 334.70 204.70 C335.12 202.82 335.72 201.17 336.50 199.70 C337.28 198.23 338.28 196.88 339.40 195.90 C340.52 194.92 341.88 194.25 343.20 193.80 C344.52 193.35 345.98 193.20 347.30 193.20 C348.62 193.20 350.47 193.70 351.10 193.80 L352.38 193.80 L352.38 216.40 L334.00 216.40 Z" fill="#2EFF00"/>
<path d="M344.80 211.00 C344.88 209.80 344.97 205.83 345.25 203.80 C345.53 201.77 345.94 200.18 346.50 198.80 C347.06 197.42 347.83 196.26 348.60 195.50 C349.37 194.74 350.68 194.46 351.10 194.25 L352.38 194.25 L352.38 216.40 L344.80 216.40 Z" fill="#8BFF00"/>
<path d="M347.75 211.00 C347.79 209.80 347.82 205.83 348.00 203.80 C348.18 201.77 348.43 200.12 348.80 198.80 C349.18 197.48 349.84 196.58 350.25 195.90 C350.66 195.22 351.08 194.90 351.25 194.70 L352.38 194.70 L352.38 216.40 L347.75 216.40 Z" fill="#E8FF00"/>
<path d="M349.40 211.00 C349.43 209.80 349.46 205.83 349.60 203.80 C349.74 201.77 349.98 200.18 350.25 198.80 C350.52 197.42 351.04 196.05 351.20 195.50 L352.38 195.50 L352.38 216.40 L349.40 216.40 Z" fill="#FFB900"/>
<path d="M386.70 193.80 C387.65 193.07 390.33 190.78 392.40 189.40 C394.47 188.02 396.38 186.82 399.10 185.50 C401.82 184.18 405.50 182.77 408.70 181.50 C411.90 180.23 415.12 179.07 418.30 177.90 C421.48 176.73 424.02 175.77 427.80 174.50 C431.58 173.23 438.80 171.00 441.00 170.30 L446.25 170.30 L446.25 216.40 L385.93 216.40 L385.93 193.80 Z" fill="#005DFF"/>
<rect x="351.38" y="194.21" width="35.55" height="18.19" fill="#fff" stroke="none"/>
</g>
<g stroke="#181818" stroke-width="1.0" fill="none">
<path d="M262.50 48.50 V210.40 H440.25"/>
<path d="M262.50 210.40 h4.20 M262.50 203.92 h2.40 M262.50 197.45 h2.40 M262.50 190.97 h2.40 M262.50 184.50 h2.40 M262.50 178.02 h4.20 M262.50 171.54 h2.40 M262.50 165.07 h2.40 M262.50 158.59 h2.40 M262.50 152.12 h2.40 M262.50 145.64 h4.20 M262.50 139.16 h2.40 M262.50 132.69 h2.40 M262.50 126.21 h2.40 M262.50 119.74 h2.40 M262.50 113.26 h4.20 M262.50 106.78 h2.40 M262.50 100.31 h2.40 M262.50 93.83 h2.40 M262.50 87.36 h2.40 M262.50 80.88 h4.20 M262.50 74.40 h2.40 M262.50 67.93 h2.40 M262.50 61.45 h2.40 M262.50 54.98 h2.40 M262.50 48.50 h4.20 M262.50 210.40 v-4.00 M269.61 210.40 v-2.20 M276.72 210.40 v-2.20 M283.83 210.40 v-2.20 M290.94 210.40 v-2.20 M298.05 210.40 v-4.00 M305.16 210.40 v-2.20 M312.27 210.40 v-2.20 M319.38 210.40 v-2.20 M326.49 210.40 v-2.20 M333.60 210.40 v-4.00 M340.71 210.40 v-2.20 M347.82 210.40 v-2.20 M354.93 210.40 v-2.20 M362.04 210.40 v-2.20 M369.15 210.40 v-4.00 M376.26 210.40 v-2.20 M383.37 210.40 v-2.20 M390.48 210.40 v-2.20 M397.59 210.40 v-2.20 M404.70 210.40 v-4.00 M411.81 210.40 v-2.20 M418.92 210.40 v-2.20 M426.03 210.40 v-2.20 M433.14 210.40 v-2.20 M440.25 210.40 v-4.00 " stroke-width="0.55" stroke="#1a1a1a"/>
</g>
<g fill="#151515" stroke="#151515" stroke-width="0.27">
<text transform="translate(259.90 213.70) scale(1 1.170)" font-size="7.20" text-anchor="end">0</text>
<text transform="translate(259.90 181.32) scale(1 1.170)" font-size="7.20" text-anchor="end">1</text>
<text transform="translate(259.90 148.94) scale(1 1.170)" font-size="7.20" text-anchor="end">2</text>
<text transform="translate(259.90 116.56) scale(1 1.170)" font-size="7.20" text-anchor="end">3</text>
<text transform="translate(259.90 84.18) scale(1 1.170)" font-size="7.20" text-anchor="end">4</text>
<text transform="translate(259.90 51.80) scale(1 1.170)" font-size="7.20" text-anchor="end">5</text>
<text transform="translate(262.50 218.60) scale(1 1.170)" font-size="7.20" text-anchor="middle">-3</text>
<text transform="translate(298.05 218.60) scale(1 1.170)" font-size="7.20" text-anchor="middle">-2</text>
<text transform="translate(333.60 218.60) scale(1 1.170)" font-size="7.20" text-anchor="middle">-1</text>
<text transform="translate(369.15 218.60) scale(1 1.170)" font-size="7.20" text-anchor="middle">0</text>
<text transform="translate(404.70 218.60) scale(1 1.170)" font-size="7.20" text-anchor="middle">1</text>
<text transform="translate(440.25 218.60) scale(1 1.170)" font-size="7.20" text-anchor="middle">2</text>
<text stroke-width="0.4" transform="translate(351.38 224.90) scale(1 1.170)" font-size="7.40" text-anchor="middle">X</text>
<text stroke-width="0.4" transform="translate(249.00 129.75) rotate(-90) scale(1 1.170)" font-size="7.40" text-anchor="middle">Y</text>
</g>
<rect x="288.60" y="21.60" width="6.47" height="10.90" fill="#0000FF"/>
<rect x="294.77" y="21.60" width="12.64" height="10.90" fill="#005DFF"/>
<rect x="307.10" y="21.60" width="12.64" height="10.90" fill="#00B9FF"/>
<rect x="319.44" y="21.60" width="12.64" height="10.90" fill="#00FFE8"/>
<rect x="331.78" y="21.60" width="12.64" height="10.90" fill="#00FF8B"/>
<rect x="344.11" y="21.60" width="12.64" height="10.90" fill="#00FF2E"/>
<rect x="356.45" y="21.60" width="12.64" height="10.90" fill="#2EFF00"/>
<rect x="368.79" y="21.60" width="12.64" height="10.90" fill="#8BFF00"/>
<rect x="381.12" y="21.60" width="12.64" height="10.90" fill="#E8FF00"/>
<rect x="393.46" y="21.60" width="12.64" height="10.90" fill="#FFB900"/>
<rect x="405.80" y="21.60" width="12.64" height="10.90" fill="#FF5D00"/>
<rect x="418.13" y="21.60" width="6.47" height="10.90" fill="#FF0000"/>
<path d="M288.60 21.60 H424.30 V32.50 H288.60 Z M294.77 21.60 V32.50 M307.10 21.60 V32.50 M319.44 21.60 V32.50 M331.78 21.60 V32.50 M344.11 21.60 V32.50 M356.45 21.60 V32.50 M368.79 21.60 V32.50 M381.12 21.60 V32.50 M393.46 21.60 V32.50 M405.80 21.60 V32.50 M418.13 21.60 V32.50 " stroke="#202020" stroke-width="0.5" fill="none"/>
<g fill="#151515" stroke="#151515" stroke-width="0.27">
<text transform="translate(294.77 41.70) scale(1 1.170)" font-size="7.20" text-anchor="middle">0</text>
<text transform="translate(307.10 41.70) scale(1 1.170)" font-size="7.20" text-anchor="middle">0.7</text>
<text transform="translate(319.44 41.70) scale(1 1.170)" font-size="7.20" text-anchor="middle">1.4</text>
<text transform="translate(331.78 41.70) scale(1 1.170)" font-size="7.20" text-anchor="middle">2.1</text>
<text transform="translate(344.11 41.70) scale(1 1.170)" font-size="7.20" text-anchor="middle">2.8</text>
<text transform="translate(356.45 41.70) scale(1 1.170)" font-size="7.20" text-anchor="middle">3.5</text>
<text transform="translate(368.79 41.70) scale(1 1.170)" font-size="7.20" text-anchor="middle">4.2</text>
<text transform="translate(381.12 41.70) scale(1 1.170)" font-size="7.20" text-anchor="middle">4.9</text>
<text transform="translate(393.46 41.70) scale(1 1.170)" font-size="7.20" text-anchor="middle">5.6</text>
<text transform="translate(405.80 41.70) scale(1 1.170)" font-size="7.20" text-anchor="middle">6.3</text>
<text transform="translate(418.13 41.70) scale(1 1.170)" font-size="7.20" text-anchor="middle">7</text>
<text transform="translate(268.60 41.70) scale(1 1.170)" font-size="7.20">Rho:</text>
</g>
<clipPath id="clip_b2"><rect x="263.00" y="258.75" width="177.75" height="161.75"/></clipPath>
<rect x="263.00" y="258.75" width="177.75" height="161.75" fill="#00B9FF"/>
<g clip-path="url(#clip_b2)" stroke="#101010" stroke-width="0.45" stroke-linejoin="round">
<path d="M324.60 421.00 C324.67 419.12 324.62 413.25 325.00 409.70 C325.38 406.15 326.02 403.03 326.90 399.70 C327.78 396.37 328.88 393.03 330.30 389.70 C331.72 386.37 333.57 382.77 335.40 379.70 C337.23 376.63 338.32 374.92 341.30 371.30 C344.28 367.68 349.25 362.25 353.30 358.00 C357.35 353.75 361.15 350.01 365.60 345.80 C370.05 341.59 375.10 337.01 380.00 332.75 C384.90 328.49 390.00 324.21 395.00 320.25 C400.00 316.29 405.00 312.46 410.00 309.00 C415.00 305.54 419.75 302.75 425.00 299.50 C430.25 296.25 438.75 291.17 441.50 289.50 L446.75 289.50 L446.75 346.00 L441.50 346.00 C438.75 347.37 429.67 351.80 425.00 354.20 C420.33 356.60 416.22 358.85 413.50 360.40 C410.78 361.95 411.10 361.93 408.70 363.50 C406.30 365.07 402.28 367.68 399.10 369.80 C395.92 371.92 392.78 374.00 389.60 376.20 C386.42 378.40 383.27 380.49 380.00 383.00 C376.73 385.51 373.33 388.62 370.00 391.25 C366.67 393.88 362.92 396.67 360.00 398.75 C357.08 400.83 353.75 402.92 352.50 403.75 L352.88 403.75 L352.88 426.50 L324.60 426.50 Z" fill="#00FFE8"/>
<path d="M327.30 421.00 C327.38 419.12 327.38 413.25 327.80 409.70 C328.22 406.15 328.89 403.03 329.80 399.70 C330.71 396.37 331.82 393.03 333.25 389.70 C334.68 386.37 336.51 382.77 338.40 379.70 C340.29 376.63 342.03 374.25 344.60 371.30 C347.17 368.35 350.23 365.30 353.80 362.00 C357.37 358.70 361.63 355.08 366.00 351.50 C370.37 347.92 375.17 343.83 380.00 340.50 C384.83 337.17 390.00 334.33 395.00 331.50 C400.00 328.67 405.00 325.75 410.00 323.50 C415.00 321.25 421.25 319.17 425.00 318.00 C428.75 316.83 430.75 316.62 432.50 316.50 C434.25 316.38 435.17 316.50 435.50 317.25 C435.83 318.00 435.83 319.25 434.50 321.00 C433.17 322.75 430.75 325.17 427.50 327.75 C424.25 330.33 419.58 333.38 415.00 336.50 C410.42 339.62 405.00 343.04 400.00 346.50 C395.00 349.96 389.17 354.03 385.00 357.25 C380.83 360.47 377.50 363.43 375.00 365.80 C372.50 368.18 371.46 369.76 370.00 371.50 C368.54 373.24 367.50 374.58 366.25 376.25 C365.00 377.92 363.54 379.83 362.50 381.50 C361.46 383.17 360.78 384.58 360.00 386.25 C359.22 387.92 358.43 389.96 357.80 391.50 C357.18 393.04 356.80 394.17 356.25 395.50 C355.70 396.83 355.11 398.18 354.50 399.50 C353.89 400.82 352.92 402.75 352.60 403.40 L352.88 403.40 L352.88 426.50 L327.30 426.50 Z" fill="#00FF8B"/>
<path d="M329.30 421.00 C329.42 419.12 329.58 412.98 330.00 409.70 C330.42 406.42 330.93 403.95 331.80 401.30 C332.67 398.65 333.95 396.02 335.20 393.80 C336.45 391.58 337.92 389.67 339.30 388.00 C340.68 386.33 342.45 384.67 343.50 383.80 C344.55 382.93 345.02 382.73 345.60 382.80 C346.18 382.88 346.65 383.25 347.00 384.25 C347.35 385.25 347.38 387.06 347.70 388.80 C348.02 390.54 348.42 392.88 348.90 394.70 C349.38 396.52 350.08 398.20 350.60 399.70 C351.12 401.20 351.77 403.03 352.00 403.70 L352.88 403.70 L352.88 426.50 L329.30 426.50 Z" fill="#00FF2E"/>
<path d="M334.30 421.00 C334.38 419.95 334.40 416.73 334.75 414.70 C335.10 412.67 335.57 410.47 336.40 408.80 C337.23 407.13 338.43 405.73 339.75 404.70 C341.07 403.67 342.78 402.95 344.30 402.60 C345.82 402.25 347.65 402.37 348.90 402.60 C350.15 402.83 351.32 403.77 351.80 404.00 L352.88 404.00 L352.88 426.50 L334.30 426.50 Z" fill="#2EFF00"/>
<path d="M345.20 421.00 C345.27 419.80 345.30 415.83 345.60 413.80 C345.90 411.77 346.38 410.18 347.00 408.80 C347.62 407.42 348.50 406.23 349.30 405.50 C350.10 404.77 351.38 404.58 351.80 404.40 L352.88 404.40 L352.88 426.50 L345.20 426.50 Z" fill="#8BFF00"/>
<path d="M348.10 421.00 C348.13 419.80 348.10 415.83 348.30 413.80 C348.50 411.77 348.85 410.12 349.30 408.80 C349.75 407.48 350.55 406.57 351.00 405.90 C351.45 405.23 351.83 404.98 352.00 404.80 L352.88 404.80 L352.88 426.50 L348.10 426.50 Z" fill="#E8FF00"/>
<path d="M349.75 421.00 C349.79 419.80 349.82 415.83 350.00 413.80 C350.18 411.77 350.50 410.12 350.80 408.80 C351.10 407.48 351.63 406.38 351.80 405.90 L352.88 405.90 L352.88 426.50 L349.75 426.50 Z" fill="#FFB900"/>
<path d="M351.50 421.00 C351.52 419.83 351.53 415.75 351.60 414.00 C351.67 412.25 351.85 411.08 351.90 410.50 L352.88 410.50 L352.88 426.50 L351.50 426.50 Z" fill="#FF5D00"/>
<path d="M387.00 404.20 C387.92 403.50 389.92 401.53 392.50 400.00 C395.08 398.47 398.75 396.67 402.50 395.00 C406.25 393.33 410.83 391.60 415.00 390.00 C419.17 388.40 423.08 386.92 427.50 385.40 C431.92 383.88 439.17 381.65 441.50 380.90 L446.75 380.90 L446.75 426.50 L386.43 426.50 L386.43 404.20 Z" fill="#005DFF"/>
<rect x="351.88" y="404.32" width="35.55" height="18.18" fill="#fff" stroke="none"/>
</g>
<g stroke="#181818" stroke-width="1.0" fill="none">
<path d="M263.00 258.75 V420.50 H440.75"/>
<path d="M263.00 420.50 h4.20 M263.00 414.03 h2.40 M263.00 407.56 h2.40 M263.00 401.09 h2.40 M263.00 394.62 h2.40 M263.00 388.15 h4.20 M263.00 381.68 h2.40 M263.00 375.21 h2.40 M263.00 368.74 h2.40 M263.00 362.27 h2.40 M263.00 355.80 h4.20 M263.00 349.33 h2.40 M263.00 342.86 h2.40 M263.00 336.39 h2.40 M263.00 329.92 h2.40 M263.00 323.45 h4.20 M263.00 316.98 h2.40 M263.00 310.51 h2.40 M263.00 304.04 h2.40 M263.00 297.57 h2.40 M263.00 291.10 h4.20 M263.00 284.63 h2.40 M263.00 278.16 h2.40 M263.00 271.69 h2.40 M263.00 265.22 h2.40 M263.00 258.75 h4.20 M263.00 420.50 v-4.00 M270.11 420.50 v-2.20 M277.22 420.50 v-2.20 M284.33 420.50 v-2.20 M291.44 420.50 v-2.20 M298.55 420.50 v-4.00 M305.66 420.50 v-2.20 M312.77 420.50 v-2.20 M319.88 420.50 v-2.20 M326.99 420.50 v-2.20 M334.10 420.50 v-4.00 M341.21 420.50 v-2.20 M348.32 420.50 v-2.20 M355.43 420.50 v-2.20 M362.54 420.50 v-2.20 M369.65 420.50 v-4.00 M376.76 420.50 v-2.20 M383.87 420.50 v-2.20 M390.98 420.50 v-2.20 M398.09 420.50 v-2.20 M405.20 420.50 v-4.00 M412.31 420.50 v-2.20 M419.42 420.50 v-2.20 M426.53 420.50 v-2.20 M433.64 420.50 v-2.20 M440.75 420.50 v-4.00 " stroke-width="0.55" stroke="#1a1a1a"/>
</g>
<g fill="#151515" stroke="#151515" stroke-width="0.27">
<text transform="translate(260.40 423.80) scale(1 1.170)" font-size="7.20" text-anchor="end">0</text>
<text transform="translate(260.40 391.45) scale(1 1.170)" font-size="7.20" text-anchor="end">1</text>
<text transform="translate(260.40 359.10) scale(1 1.170)" font-size="7.20" text-anchor="end">2</text>
<text transform="translate(260.40 326.75) scale(1 1.170)" font-size="7.20" text-anchor="end">3</text>
<text transform="translate(260.40 294.40) scale(1 1.170)" font-size="7.20" text-anchor="end">4</text>
<text transform="translate(260.40 262.05) scale(1 1.170)" font-size="7.20" text-anchor="end">5</text>
<text transform="translate(263.00 428.70) scale(1 1.170)" font-size="7.20" text-anchor="middle">-3</text>
<text transform="translate(298.55 428.70) scale(1 1.170)" font-size="7.20" text-anchor="middle">-2</text>
<text transform="translate(334.10 428.70) scale(1 1.170)" font-size="7.20" text-anchor="middle">-1</text>
<text transform="translate(369.65 428.70) scale(1 1.170)" font-size="7.20" text-anchor="middle">0</text>
<text transform="translate(405.20 428.70) scale(1 1.170)" font-size="7.20" text-anchor="middle">1</text>
<text transform="translate(440.75 428.70) scale(1 1.170)" font-size="7.20" text-anchor="middle">2</text>
<text stroke-width="0.4" transform="translate(351.88 435.00) scale(1 1.170)" font-size="7.40" text-anchor="middle">X</text>
<text stroke-width="0.4" transform="translate(249.50 339.93) rotate(-90) scale(1 1.170)" font-size="7.40" text-anchor="middle">Y</text>
</g>
<rect x="290.50" y="232.50" width="6.47" height="10.50" fill="#0000FF"/>
<rect x="296.67" y="232.50" width="12.64" height="10.50" fill="#005DFF"/>
<rect x="309.01" y="232.50" width="12.64" height="10.50" fill="#00B9FF"/>
<rect x="321.35" y="232.50" width="12.64" height="10.50" fill="#00FFE8"/>
<rect x="333.69" y="232.50" width="12.64" height="10.50" fill="#00FF8B"/>
<rect x="346.03" y="232.50" width="12.64" height="10.50" fill="#00FF2E"/>
<rect x="358.38" y="232.50" width="12.64" height="10.50" fill="#2EFF00"/>
<rect x="370.72" y="232.50" width="12.64" height="10.50" fill="#8BFF00"/>
<rect x="383.06" y="232.50" width="12.64" height="10.50" fill="#E8FF00"/>
<rect x="395.40" y="232.50" width="12.64" height="10.50" fill="#FFB900"/>
<rect x="407.74" y="232.50" width="12.64" height="10.50" fill="#FF5D00"/>
<rect x="420.08" y="232.50" width="6.47" height="10.50" fill="#FF0000"/>
<path d="M290.50 232.50 H426.25 V243.00 H290.50 Z M296.67 232.50 V243.00 M309.01 232.50 V243.00 M321.35 232.50 V243.00 M333.69 232.50 V243.00 M346.03 232.50 V243.00 M358.38 232.50 V243.00 M370.72 232.50 V243.00 M383.06 232.50 V243.00 M395.40 232.50 V243.00 M407.74 232.50 V243.00 M420.08 232.50 V243.00 " stroke="#202020" stroke-width="0.5" fill="none"/>
<g fill="#151515" stroke="#151515" stroke-width="0.27">
<text transform="translate(296.67 252.20) scale(1 1.170)" font-size="7.20" text-anchor="middle">0</text>
<text transform="translate(309.01 252.20) scale(1 1.170)" font-size="7.20" text-anchor="middle">0.7</text>
<text transform="translate(321.35 252.20) scale(1 1.170)" font-size="7.20" text-anchor="middle">1.4</text>
<text transform="translate(333.69 252.20) scale(1 1.170)" font-size="7.20" text-anchor="middle">2.1</text>
<text transform="translate(346.03 252.20) scale(1 1.170)" font-size="7.20" text-anchor="middle">2.8</text>
<text transform="translate(358.38 252.20) scale(1 1.170)" font-size="7.20" text-anchor="middle">3.5</text>
<text transform="translate(370.72 252.20) scale(1 1.170)" font-size="7.20" text-anchor="middle">4.2</text>
<text transform="translate(383.06 252.20) scale(1 1.170)" font-size="7.20" text-anchor="middle">4.9</text>
<text transform="translate(395.40 252.20) scale(1 1.170)" font-size="7.20" text-anchor="middle">5.6</text>
<text transform="translate(407.74 252.20) scale(1 1.170)" font-size="7.20" text-anchor="middle">6.3</text>
<text transform="translate(420.08 252.20) scale(1 1.170)" font-size="7.20" text-anchor="middle">7</text>
<text transform="translate(270.60 252.20) scale(1 1.170)" font-size="7.20">Rho:</text>
</g>
<clipPath id="clip_b3"><rect x="262.00" y="468.75" width="177.50" height="161.50"/></clipPath>
<rect x="262.00" y="468.75" width="177.50" height="161.50" fill="#00B9FF"/>
<g clip-path="url(#clip_b3)" stroke="#101010" stroke-width="0.45" stroke-linejoin="round">
<path d="M323.60 631.50 C323.67 629.53 323.65 623.33 324.00 619.70 C324.35 616.07 324.87 613.03 325.70 609.70 C326.53 606.37 327.62 603.03 329.00 599.70 C330.38 596.37 332.20 592.62 334.00 589.70 C335.80 586.78 338.20 584.15 339.80 582.20 C341.40 580.25 341.48 580.28 343.60 578.00 C345.72 575.72 348.93 572.08 352.50 568.50 C356.07 564.92 360.42 560.50 365.00 556.50 C369.58 552.50 375.00 548.42 380.00 544.50 C385.00 540.58 390.00 536.67 395.00 533.00 C400.00 529.33 405.00 525.88 410.00 522.50 C415.00 519.12 419.92 516.00 425.00 512.75 C430.08 509.50 437.92 504.62 440.50 503.00 L445.50 503.00 L445.50 557.20 L440.50 557.20 C437.92 558.50 429.46 562.70 425.00 565.00 C420.54 567.30 417.92 568.63 413.75 571.00 C409.58 573.37 403.79 576.87 400.00 579.20 C396.21 581.53 394.33 582.68 391.00 585.00 C387.67 587.32 383.50 590.39 380.00 593.10 C376.50 595.81 373.33 598.64 370.00 601.25 C366.67 603.86 363.12 606.56 360.00 608.75 C356.88 610.94 352.71 613.46 351.25 614.40 L351.75 614.40 L351.75 636.25 L323.60 636.25 Z" fill="#00FFE8"/>
<path d="M326.50 631.50 C326.57 629.53 326.55 623.33 326.90 619.70 C327.25 616.07 327.77 613.03 328.60 609.70 C329.43 606.37 330.52 603.03 331.90 599.70 C333.28 596.37 335.02 592.62 336.90 589.70 C338.78 586.78 341.47 584.15 343.20 582.20 C344.93 580.25 345.75 579.45 347.30 578.00 C348.85 576.55 349.55 576.00 352.50 573.50 C355.45 571.00 360.42 566.50 365.00 563.00 C369.58 559.50 375.00 555.79 380.00 552.50 C385.00 549.21 390.00 546.12 395.00 543.25 C400.00 540.38 405.00 537.71 410.00 535.25 C415.00 532.79 419.92 530.42 425.00 528.50 C430.08 526.58 437.92 524.50 440.50 523.70 L445.50 523.70 L445.50 529.80 L440.50 529.80 C438.33 531.33 431.75 536.01 427.50 539.00 C423.25 541.99 419.58 544.50 415.00 547.75 C410.42 551.00 404.00 555.62 400.00 558.50 C396.00 561.38 394.33 562.53 391.00 565.00 C387.67 567.47 383.08 570.80 380.00 573.30 C376.92 575.80 375.00 577.42 372.50 580.00 C370.00 582.58 367.08 586.04 365.00 588.75 C362.92 591.46 361.25 594.21 360.00 596.25 C358.75 598.29 358.23 599.54 357.50 601.00 C356.77 602.46 356.25 603.58 355.60 605.00 C354.95 606.42 354.32 608.05 353.60 609.50 C352.88 610.95 351.68 613.00 351.30 613.70 L351.75 613.70 L351.75 636.25 L326.50 636.25 Z" fill="#00FF8B"/>
<path d="M328.80 631.50 C328.90 629.53 328.98 623.07 329.40 619.70 C329.82 616.33 330.40 613.95 331.30 611.30 C332.20 608.65 333.52 606.02 334.80 603.80 C336.08 601.58 337.60 599.67 339.00 598.00 C340.40 596.33 342.02 594.80 343.20 593.80 C344.38 592.80 345.42 592.07 346.10 592.00 C346.78 591.93 347.07 592.40 347.30 593.40 C347.53 594.40 347.35 596.27 347.50 598.00 C347.65 599.73 347.88 602.00 348.20 603.80 C348.52 605.60 348.98 607.20 349.40 608.80 C349.82 610.40 350.48 612.63 350.70 613.40 L351.75 613.40 L351.75 636.25 L328.80 636.25 Z" fill="#00FF2E"/>
<path d="M333.60 631.50 C333.67 630.37 333.65 626.82 334.00 624.70 C334.35 622.58 334.87 620.47 335.70 618.80 C336.53 617.13 337.75 615.73 339.00 614.70 C340.25 613.67 341.82 612.95 343.20 612.60 C344.58 612.25 346.08 612.37 347.30 612.60 C348.52 612.83 349.97 613.77 350.50 614.00 L351.75 614.00 L351.75 636.25 L333.60 636.25 Z" fill="#2EFF00"/>
<path d="M342.75 631.50 C342.84 630.22 342.88 625.92 343.30 623.80 C343.72 621.68 344.51 620.12 345.25 618.80 C345.99 617.48 346.88 616.62 347.75 615.90 C348.62 615.18 350.04 614.73 350.50 614.50 L351.75 614.50 L351.75 636.25 L342.75 636.25 Z" fill="#8BFF00"/>
<path d="M346.10 631.50 C346.17 630.22 346.23 625.92 346.50 623.80 C346.77 621.68 347.27 620.07 347.75 618.80 C348.23 617.53 348.91 616.82 349.40 616.20 C349.89 615.58 350.48 615.28 350.70 615.10 L351.75 615.10 L351.75 636.25 L346.10 636.25 Z" fill="#E8FF00"/>
<path d="M348.00 631.50 C348.05 630.22 348.10 625.84 348.30 623.80 C348.50 621.76 348.83 620.50 349.20 619.25 C349.57 618.00 350.28 616.79 350.50 616.30 L351.75 616.30 L351.75 636.25 L348.00 636.25 Z" fill="#FFB900"/>
<path d="M349.40 631.50 C349.45 630.08 349.52 625.25 349.70 623.00 C349.88 620.75 350.37 618.83 350.50 618.00 L351.75 618.00 L351.75 636.25 L349.40 636.25 Z" fill="#FF5D00"/>
<path d="M350.00 631.50 C350.05 630.37 350.18 626.40 350.30 624.70 C350.42 623.00 350.63 621.87 350.70 621.30 L351.75 621.30 L351.75 636.25 L350.00 636.25 Z" fill="#FF0000"/>
<path d="M386.20 614.50 C387.57 613.62 391.45 610.88 394.40 609.20 C397.35 607.52 400.72 605.92 403.90 604.40 C407.08 602.88 410.30 601.37 413.50 600.10 C416.70 598.83 419.92 597.83 423.10 596.80 C426.28 595.77 429.70 594.82 432.60 593.90 C435.50 592.98 439.18 591.73 440.50 591.30 L445.50 591.30 L445.50 636.25 L385.25 636.25 L385.25 614.50 Z" fill="#005DFF"/>
<rect x="350.75" y="614.10" width="35.50" height="18.15" fill="#fff" stroke="none"/>
</g>
<g stroke="#181818" stroke-width="1.0" fill="none">
<path d="M262.00 468.75 V630.25 H439.50"/>
<path d="M262.00 630.25 h4.20 M262.00 623.79 h2.40 M262.00 617.33 h2.40 M262.00 610.87 h2.40 M262.00 604.41 h2.40 M262.00 597.95 h4.20 M262.00 591.49 h2.40 M262.00 585.03 h2.40 M262.00 578.57 h2.40 M262.00 572.11 h2.40 M262.00 565.65 h4.20 M262.00 559.19 h2.40 M262.00 552.73 h2.40 M262.00 546.27 h2.40 M262.00 539.81 h2.40 M262.00 533.35 h4.20 M262.00 526.89 h2.40 M262.00 520.43 h2.40 M262.00 513.97 h2.40 M262.00 507.51 h2.40 M262.00 501.05 h4.20 M262.00 494.59 h2.40 M262.00 488.13 h2.40 M262.00 481.67 h2.40 M262.00 475.21 h2.40 M262.00 468.75 h4.20 M262.00 630.25 v-4.00 M269.10 630.25 v-2.20 M276.20 630.25 v-2.20 M283.30 630.25 v-2.20 M290.40 630.25 v-2.20 M297.50 630.25 v-4.00 M304.60 630.25 v-2.20 M311.70 630.25 v-2.20 M318.80 630.25 v-2.20 M325.90 630.25 v-2.20 M333.00 630.25 v-4.00 M340.10 630.25 v-2.20 M347.20 630.25 v-2.20 M354.30 630.25 v-2.20 M361.40 630.25 v-2.20 M368.50 630.25 v-4.00 M375.60 630.25 v-2.20 M382.70 630.25 v-2.20 M389.80 630.25 v-2.20 M396.90 630.25 v-2.20 M404.00 630.25 v-4.00 M411.10 630.25 v-2.20 M418.20 630.25 v-2.20 M425.30 630.25 v-2.20 M432.40 630.25 v-2.20 M439.50 630.25 v-4.00 " stroke-width="0.55" stroke="#1a1a1a"/>
</g>
<g fill="#151515" stroke="#151515" stroke-width="0.27">
<text transform="translate(259.40 633.55) scale(1 1.170)" font-size="7.20" text-anchor="end">0</text>
<text transform="translate(259.40 601.25) scale(1 1.170)" font-size="7.20" text-anchor="end">1</text>
<text transform="translate(259.40 568.95) scale(1 1.170)" font-size="7.20" text-anchor="end">2</text>
<text transform="translate(259.40 536.65) scale(1 1.170)" font-size="7.20" text-anchor="end">3</text>
<text transform="translate(259.40 504.35) scale(1 1.170)" font-size="7.20" text-anchor="end">4</text>
<text transform="translate(259.40 472.05) scale(1 1.170)" font-size="7.20" text-anchor="end">5</text>
<text transform="translate(262.00 638.45) scale(1 1.170)" font-size="7.20" text-anchor="middle">-3</text>
<text transform="translate(297.50 638.45) scale(1 1.170)" font-size="7.20" text-anchor="middle">-2</text>
<text transform="translate(333.00 638.45) scale(1 1.170)" font-size="7.20" text-anchor="middle">-1</text>
<text transform="translate(368.50 638.45) scale(1 1.170)" font-size="7.20" text-anchor="middle">0</text>
<text transform="translate(404.00 638.45) scale(1 1.170)" font-size="7.20" text-anchor="middle">1</text>
<text transform="translate(439.50 638.45) scale(1 1.170)" font-size="7.20" text-anchor="middle">2</text>
<text stroke-width="0.4" transform="translate(350.75 644.75) scale(1 1.170)" font-size="7.40" text-anchor="middle">X</text>
<text stroke-width="0.4" transform="translate(248.50 549.80) rotate(-90) scale(1 1.170)" font-size="7.40" text-anchor="middle">Y</text>
</g>
<rect x="288.00" y="442.50" width="6.47" height="10.50" fill="#0000FF"/>
<rect x="294.17" y="442.50" width="12.64" height="10.50" fill="#005DFF"/>
<rect x="306.51" y="442.50" width="12.64" height="10.50" fill="#00B9FF"/>
<rect x="318.85" y="442.50" width="12.64" height="10.50" fill="#00FFE8"/>
<rect x="331.19" y="442.50" width="12.64" height="10.50" fill="#00FF8B"/>
<rect x="343.53" y="442.50" width="12.64" height="10.50" fill="#00FF2E"/>
<rect x="355.88" y="442.50" width="12.64" height="10.50" fill="#2EFF00"/>
<rect x="368.22" y="442.50" width="12.64" height="10.50" fill="#8BFF00"/>
<rect x="380.56" y="442.50" width="12.64" height="10.50" fill="#E8FF00"/>
<rect x="392.90" y="442.50" width="12.64" height="10.50" fill="#FFB900"/>
<rect x="405.24" y="442.50" width="12.64" height="10.50" fill="#FF5D00"/>
<rect x="417.58" y="442.50" width="6.47" height="10.50" fill="#FF0000"/>
<path d="M288.00 442.50 H423.75 V453.00 H288.00 Z M294.17 442.50 V453.00 M306.51 442.50 V453.00 M318.85 442.50 V453.00 M331.19 442.50 V453.00 M343.53 442.50 V453.00 M355.88 442.50 V453.00 M368.22 442.50 V453.00 M380.56 442.50 V453.00 M392.90 442.50 V453.00 M405.24 442.50 V453.00 M417.58 442.50 V453.00 " stroke="#202020" stroke-width="0.5" fill="none"/>
<g fill="#151515" stroke="#151515" stroke-width="0.27">
<text transform="translate(294.17 462.20) scale(1 1.170)" font-size="7.20" text-anchor="middle">0</text>
<text transform="translate(306.51 462.20) scale(1 1.170)" font-size="7.20" text-anchor="middle">0.7</text>
<text transform="translate(318.85 462.20) scale(1 1.170)" font-size="7.20" text-anchor="middle">1.4</text>
<text transform="translate(331.19 462.20) scale(1 1.170)" font-size="7.20" text-anchor="middle">2.1</text>
<text transform="translate(343.53 462.20) scale(1 1.170)" font-size="7.20" text-anchor="middle">2.8</text>
<text transform="translate(355.88 462.20) scale(1 1.170)" font-size="7.20" text-anchor="middle">3.5</text>
<text transform="translate(368.22 462.20) scale(1 1.170)" font-size="7.20" text-anchor="middle">4.2</text>
<text transform="translate(380.56 462.20) scale(1 1.170)" font-size="7.20" text-anchor="middle">4.9</text>
<text transform="translate(392.90 462.20) scale(1 1.170)" font-size="7.20" text-anchor="middle">5.6</text>
<text transform="translate(405.24 462.20) scale(1 1.170)" font-size="7.20" text-anchor="middle">6.3</text>
<text transform="translate(417.58 462.20) scale(1 1.170)" font-size="7.20" text-anchor="middle">7</text>
<text transform="translate(268.00 462.20) scale(1 1.170)" font-size="7.20">Rho:</text>
</g>
<clipPath id="clip_c1"><rect x="502.40" y="46.75" width="171.10" height="156.55"/></clipPath>
<rect x="502.40" y="46.75" width="171.10" height="156.55" fill="#005DFF"/>
<g clip-path="url(#clip_c1)" stroke="#101010" stroke-width="0.45" stroke-linejoin="round">
<path d="M560.60 204.00 C560.67 202.22 560.65 196.75 561.00 193.30 C561.35 189.85 561.93 186.48 562.70 183.30 C563.47 180.12 564.43 177.25 565.60 174.20 C566.77 171.15 568.15 167.87 569.75 165.00 C571.35 162.13 573.08 159.73 575.20 157.00 C577.33 154.27 579.20 152.25 582.50 148.60 C585.80 144.95 590.83 139.32 595.00 135.10 C599.17 130.88 603.33 127.05 607.50 123.30 C611.67 119.55 615.83 115.88 620.00 112.60 C624.17 109.32 628.92 106.23 632.50 103.60 C636.08 100.97 637.92 99.27 641.50 96.80 C645.08 94.33 649.83 91.22 654.00 88.80 C658.17 86.38 663.08 83.93 666.50 82.25 C669.92 80.57 673.17 79.29 674.50 78.70 L679.50 78.70 L679.50 147.60 L674.50 147.60 C672.75 148.73 667.42 152.12 664.00 154.40 C660.58 156.68 657.33 158.97 654.00 161.25 C650.67 163.53 647.33 165.81 644.00 168.10 C640.67 170.39 636.92 173.02 634.00 175.00 C631.08 176.98 628.48 178.54 626.50 180.00 C624.52 181.46 623.14 182.54 622.10 183.75 C621.06 184.96 620.60 186.38 620.25 187.25 C619.90 188.12 620.04 188.71 620.00 189.00 L620.00 209.30 L560.60 209.30 Z" fill="#00B9FF"/>
<path d="M561.80 204.00 C561.88 202.22 561.93 196.68 562.30 193.30 C562.67 189.93 563.22 186.87 564.00 183.75 C564.78 180.63 565.77 177.61 567.00 174.60 C568.23 171.59 569.69 168.57 571.40 165.70 C573.11 162.83 574.98 160.18 577.25 157.40 C579.52 154.62 581.62 152.52 585.00 149.00 C588.38 145.48 593.33 140.15 597.50 136.30 C601.67 132.45 605.83 129.00 610.00 125.90 C614.17 122.80 618.33 120.05 622.50 117.70 C626.67 115.35 631.25 113.40 635.00 111.80 C638.75 110.20 642.25 109.02 645.00 108.10 C647.75 107.18 649.17 106.90 651.50 106.30 C653.83 105.70 656.92 104.76 659.00 104.50 C661.08 104.24 662.75 104.40 664.00 104.75 C665.25 105.10 666.25 105.66 666.50 106.60 C666.75 107.54 666.33 108.83 665.50 110.40 C664.67 111.97 663.42 113.58 661.50 116.00 C659.58 118.42 656.67 122.03 654.00 124.90 C651.33 127.77 648.33 130.40 645.50 133.20 C642.67 136.00 639.75 139.07 637.00 141.70 C634.25 144.33 631.79 146.28 629.00 149.00 C626.21 151.72 623.17 154.87 620.25 158.00 C617.33 161.13 614.01 165.18 611.50 167.80 C608.99 170.43 607.23 171.85 605.20 173.75 C603.17 175.65 601.25 177.46 599.30 179.20 C597.35 180.94 595.23 182.85 593.50 184.20 C591.77 185.55 589.67 186.78 588.90 187.30 L588.95 187.30 L588.95 209.30 L561.80 209.30 Z" fill="#00FFE8"/>
<path d="M563.10 204.00 C563.20 202.22 563.33 196.60 563.70 193.30 C564.07 190.00 564.50 187.25 565.30 184.20 C566.10 181.15 567.20 177.99 568.50 175.00 C569.80 172.01 571.30 169.17 573.10 166.25 C574.90 163.33 576.90 160.21 579.30 157.50 C581.70 154.79 584.47 152.60 587.50 150.00 C590.53 147.40 594.38 144.08 597.50 141.90 C600.62 139.72 603.75 138.01 606.25 136.90 C608.75 135.79 610.88 135.36 612.50 135.25 C614.12 135.14 615.33 135.56 616.00 136.25 C616.67 136.94 616.77 137.94 616.50 139.40 C616.23 140.86 615.42 142.85 614.40 145.00 C613.38 147.15 611.72 150.05 610.40 152.30 C609.08 154.55 607.90 156.47 606.50 158.50 C605.10 160.53 603.67 162.17 602.00 164.50 C600.33 166.83 598.20 169.78 596.50 172.50 C594.80 175.22 593.10 178.37 591.80 180.80 C590.50 183.23 589.22 186.05 588.70 187.10 L588.95 187.10 L588.95 209.30 L563.10 209.30 Z" fill="#00FF8B"/>
<path d="M564.30 204.00 C564.42 202.22 564.58 196.60 565.00 193.30 C565.42 190.00 565.93 187.25 566.80 184.20 C567.67 181.15 568.80 177.99 570.20 175.00 C571.60 172.01 573.27 169.03 575.20 166.25 C577.13 163.47 579.75 160.18 581.80 158.30 C583.85 156.43 585.82 155.93 587.50 155.00 C589.18 154.07 590.65 153.00 591.90 152.75 C593.15 152.50 594.38 152.71 595.00 153.50 C595.62 154.29 595.64 156.17 595.60 157.50 C595.56 158.83 595.17 159.55 594.75 161.50 C594.33 163.45 593.73 166.53 593.10 169.20 C592.48 171.87 591.70 174.87 591.00 177.50 C590.30 180.13 589.35 183.37 588.90 185.00 C588.45 186.63 588.40 186.92 588.30 187.30 L588.95 187.30 L588.95 209.30 L564.30 209.30 Z" fill="#00FF2E"/>
<path d="M565.30 204.00 C565.45 202.22 565.73 196.47 566.20 193.30 C566.67 190.13 567.23 187.63 568.10 185.00 C568.97 182.37 570.08 179.87 571.40 177.50 C572.72 175.13 574.40 172.75 576.00 170.80 C577.60 168.85 579.54 166.88 581.00 165.80 C582.46 164.72 583.78 164.23 584.75 164.30 C585.72 164.38 586.31 165.02 586.80 166.25 C587.29 167.48 587.48 169.54 587.70 171.70 C587.92 173.86 588.02 176.70 588.10 179.20 C588.18 181.70 588.18 185.45 588.20 186.70 L588.95 186.70 L588.95 209.30 L565.30 209.30 Z" fill="#2EFF00"/>
<path d="M566.40 204.00 C566.54 202.37 566.77 197.08 567.25 194.20 C567.73 191.32 568.39 189.07 569.30 186.70 C570.21 184.33 571.52 182.02 572.70 180.00 C573.88 177.98 575.30 175.85 576.40 174.60 C577.50 173.35 578.25 172.57 579.30 172.50 C580.35 172.43 581.72 173.23 582.70 174.20 C583.68 175.17 584.44 176.63 585.20 178.30 C585.96 179.97 586.77 182.73 587.25 184.20 C587.73 185.67 587.96 186.62 588.10 187.10 L588.95 187.10 L588.95 209.30 L566.40 209.30 Z" fill="#8BFF00"/>
<path d="M567.70 204.00 C567.83 202.50 568.02 197.62 568.50 195.00 C568.98 192.38 569.77 190.32 570.60 188.30 C571.43 186.28 572.47 184.35 573.50 182.90 C574.53 181.45 575.62 180.08 576.80 179.60 C577.98 179.12 579.42 179.52 580.60 180.00 C581.78 180.48 582.88 181.60 583.90 182.50 C584.92 183.40 586.00 184.61 586.70 185.40 C587.40 186.19 587.87 186.94 588.10 187.25 L588.95 187.25 L588.95 209.30 L567.70 209.30 Z" fill="#E8FF00"/>
<path d="M569.30 204.00 C569.42 202.63 569.58 198.07 570.00 195.80 C570.42 193.53 571.01 191.92 571.80 190.40 C572.59 188.88 573.70 187.53 574.75 186.70 C575.80 185.87 576.93 185.55 578.10 185.40 C579.27 185.25 580.55 185.52 581.80 185.80 C583.05 186.08 584.55 186.78 585.60 187.10 C586.65 187.42 587.68 187.60 588.10 187.70 L588.95 187.70 L588.95 209.30 L569.30 209.30 Z" fill="#FFB900"/>
<path d="M571.80 204.00 C571.95 202.92 572.21 199.28 572.70 197.50 C573.19 195.72 573.85 194.34 574.75 193.30 C575.65 192.26 576.77 191.77 578.10 191.25 C579.43 190.73 581.03 190.47 582.70 190.20 C584.37 189.92 587.20 189.70 588.10 189.60 L588.95 189.60 L588.95 209.30 L571.80 209.30 Z" fill="#FF5D00"/>
<path d="M581.40 204.00 C581.62 203.20 582.07 200.49 582.70 199.20 C583.33 197.91 584.30 197.02 585.20 196.25 C586.10 195.48 587.62 194.88 588.10 194.60 L588.95 194.60 L588.95 209.30 L581.40 209.30 Z" fill="#FF0000"/>
<rect x="587.95" y="187.65" width="34.22" height="17.66" fill="#fff" stroke="none"/>
</g>
<g stroke="#181818" stroke-width="1.0" fill="none">
<path d="M502.40 46.75 V203.30 H673.50"/>
<path d="M502.40 203.30 h4.20 M502.40 197.04 h2.40 M502.40 190.78 h2.40 M502.40 184.51 h2.40 M502.40 178.25 h2.40 M502.40 171.99 h4.20 M502.40 165.73 h2.40 M502.40 159.47 h2.40 M502.40 153.20 h2.40 M502.40 146.94 h2.40 M502.40 140.68 h4.20 M502.40 134.42 h2.40 M502.40 128.16 h2.40 M502.40 121.89 h2.40 M502.40 115.63 h2.40 M502.40 109.37 h4.20 M502.40 103.11 h2.40 M502.40 96.85 h2.40 M502.40 90.58 h2.40 M502.40 84.32 h2.40 M502.40 78.06 h4.20 M502.40 71.80 h2.40 M502.40 65.54 h2.40 M502.40 59.27 h2.40 M502.40 53.01 h2.40 M502.40 46.75 h4.20 M502.40 203.30 v-4.00 M509.24 203.30 v-2.20 M516.09 203.30 v-2.20 M522.93 203.30 v-2.20 M529.78 203.30 v-2.20 M536.62 203.30 v-4.00 M543.46 203.30 v-2.20 M550.31 203.30 v-2.20 M557.15 203.30 v-2.20 M564.00 203.30 v-2.20 M570.84 203.30 v-4.00 M577.68 203.30 v-2.20 M584.53 203.30 v-2.20 M591.37 203.30 v-2.20 M598.22 203.30 v-2.20 M605.06 203.30 v-4.00 M611.90 203.30 v-2.20 M618.75 203.30 v-2.20 M625.59 203.30 v-2.20 M632.44 203.30 v-2.20 M639.28 203.30 v-4.00 M646.12 203.30 v-2.20 M652.97 203.30 v-2.20 M659.81 203.30 v-2.20 M666.66 203.30 v-2.20 M673.50 203.30 v-4.00 " stroke-width="0.55" stroke="#1a1a1a"/>
</g>
<g fill="#151515" stroke="#151515" stroke-width="0.27">
<text transform="translate(499.80 206.60) scale(1 1.170)" font-size="7.20" text-anchor="end">0</text>
<text transform="translate(499.80 175.29) scale(1 1.170)" font-size="7.20" text-anchor="end">1</text>
<text transform="translate(499.80 143.98) scale(1 1.170)" font-size="7.20" text-anchor="end">2</text>
<text transform="translate(499.80 112.67) scale(1 1.170)" font-size="7.20" text-anchor="end">3</text>
<text transform="translate(499.80 81.36) scale(1 1.170)" font-size="7.20" text-anchor="end">4</text>
<text transform="translate(499.80 50.05) scale(1 1.170)" font-size="7.20" text-anchor="end">5</text>
<text transform="translate(502.40 211.50) scale(1 1.170)" font-size="7.20" text-anchor="middle">-3</text>
<text transform="translate(536.62 211.50) scale(1 1.170)" font-size="7.20" text-anchor="middle">-2</text>
<text transform="translate(570.84 211.50) scale(1 1.170)" font-size="7.20" text-anchor="middle">-1</text>
<text transform="translate(605.06 211.50) scale(1 1.170)" font-size="7.20" text-anchor="middle">0</text>
<text transform="translate(639.28 211.50) scale(1 1.170)" font-size="7.20" text-anchor="middle">1</text>
<text transform="translate(673.50 211.50) scale(1 1.170)" font-size="7.20" text-anchor="middle">2</text>
<text stroke-width="0.4" transform="translate(587.95 217.10) scale(1 1.170)" font-size="6.60" text-anchor="middle">X</text>
<text stroke-width="0.4" transform="translate(488.90 125.33) rotate(-90) scale(1 1.170)" font-size="6.60" text-anchor="middle">Y</text>
</g>
<rect x="496.10" y="21.25" width="8.66" height="10.00" fill="#0000FF"/>
<rect x="504.46" y="21.25" width="17.03" height="10.00" fill="#005DFF"/>
<rect x="521.19" y="21.25" width="17.03" height="10.00" fill="#00B9FF"/>
<rect x="537.92" y="21.25" width="17.03" height="10.00" fill="#00FFE8"/>
<rect x="554.65" y="21.25" width="17.03" height="10.00" fill="#00FF8B"/>
<rect x="571.37" y="21.25" width="17.03" height="10.00" fill="#00FF2E"/>
<rect x="588.10" y="21.25" width="17.03" height="10.00" fill="#2EFF00"/>
<rect x="604.83" y="21.25" width="17.03" height="10.00" fill="#8BFF00"/>
<rect x="621.55" y="21.25" width="17.03" height="10.00" fill="#E8FF00"/>
<rect x="638.28" y="21.25" width="17.03" height="10.00" fill="#FFB900"/>
<rect x="655.01" y="21.25" width="17.03" height="10.00" fill="#FF5D00"/>
<rect x="671.74" y="21.25" width="8.66" height="10.00" fill="#FF0000"/>
<path d="M496.10 21.25 H680.10 V31.25 H496.10 Z M504.46 21.25 V31.25 M521.19 21.25 V31.25 M537.92 21.25 V31.25 M554.65 21.25 V31.25 M571.37 21.25 V31.25 M588.10 21.25 V31.25 M604.83 21.25 V31.25 M621.55 21.25 V31.25 M638.28 21.25 V31.25 M655.01 21.25 V31.25 M671.74 21.25 V31.25 " stroke="#202020" stroke-width="0.5" fill="none"/>
<g fill="#151515" stroke="#151515" stroke-width="0.27">
<text transform="translate(504.46 40.45) scale(1 1.170)" font-size="7.20" text-anchor="middle">0</text>
<text transform="translate(521.19 40.45) scale(1 1.170)" font-size="7.20" text-anchor="middle">3.5</text>
<text transform="translate(537.92 40.45) scale(1 1.170)" font-size="7.20" text-anchor="middle">7</text>
<text transform="translate(554.65 40.45) scale(1 1.170)" font-size="7.20" text-anchor="middle">10.5</text>
<text transform="translate(571.37 40.45) scale(1 1.170)" font-size="7.20" text-anchor="middle">14</text>
<text transform="translate(588.10 40.45) scale(1 1.170)" font-size="7.20" text-anchor="middle">17.5</text>
<text transform="translate(604.83 40.45) scale(1 1.170)" font-size="7.20" text-anchor="middle">21</text>
<text transform="translate(621.55 40.45) scale(1 1.170)" font-size="7.20" text-anchor="middle">24.5</text>
<text transform="translate(638.28 40.45) scale(1 1.170)" font-size="7.20" text-anchor="middle">28</text>
<text transform="translate(655.01 40.45) scale(1 1.170)" font-size="7.20" text-anchor="middle">31.5</text>
<text transform="translate(671.74 40.45) scale(1 1.170)" font-size="7.20" text-anchor="middle">35</text>
<text transform="translate(485.30 40.45) scale(1 1.170)" font-size="7.20">P:</text>
</g>
<clipPath id="clip_c2"><rect x="503.50" y="249.50" width="171.75" height="156.50"/></clipPath>
<rect x="503.50" y="249.50" width="171.75" height="156.50" fill="#005DFF"/>
<g clip-path="url(#clip_c2)" stroke="#101010" stroke-width="0.45" stroke-linejoin="round">
<path d="M562.80 407.00 C562.88 405.22 562.90 399.75 563.25 396.30 C563.60 392.85 564.14 389.48 564.90 386.30 C565.66 383.12 566.55 380.25 567.80 377.20 C569.05 374.15 570.66 370.92 572.40 368.00 C574.14 365.08 576.15 362.10 578.25 359.70 C580.35 357.30 582.21 356.18 585.00 353.60 C587.79 351.02 591.25 347.62 595.00 344.20 C598.75 340.78 603.33 336.65 607.50 333.10 C611.67 329.55 615.83 326.12 620.00 322.90 C624.17 319.68 628.92 316.37 632.50 313.80 C636.08 311.23 637.92 309.75 641.50 307.50 C645.08 305.25 649.83 302.48 654.00 300.30 C658.17 298.12 662.79 296.12 666.50 294.40 C670.21 292.68 674.62 290.73 676.25 290.00 L681.25 290.00 L681.25 343.30 L676.25 343.30 C675.38 343.90 673.71 344.95 671.00 346.90 C668.29 348.85 663.71 352.30 660.00 355.00 C656.29 357.70 652.50 360.39 648.75 363.10 C645.00 365.81 641.04 368.62 637.50 371.25 C633.96 373.88 630.17 376.67 627.50 378.90 C624.83 381.12 623.20 383.00 621.50 384.60 C619.80 386.20 618.58 387.53 617.30 388.50 C616.02 389.47 614.52 389.73 613.80 390.40 C613.08 391.07 613.13 392.15 613.00 392.50 L613.00 412.00 L562.80 412.00 Z" fill="#00B9FF"/>
<path d="M564.10 407.00 C564.17 405.22 564.15 399.75 564.50 396.30 C564.85 392.85 565.40 389.48 566.20 386.30 C567.00 383.12 567.98 380.25 569.30 377.20 C570.62 374.15 572.27 370.83 574.10 368.00 C575.93 365.17 578.15 362.48 580.30 360.20 C582.45 357.92 584.13 356.83 587.00 354.30 C589.87 351.77 593.67 348.18 597.50 345.00 C601.33 341.82 605.83 338.07 610.00 335.20 C614.17 332.33 618.75 329.67 622.50 327.80 C626.25 325.93 629.58 324.90 632.50 324.00 C635.42 323.10 637.98 322.57 640.00 322.40 C642.02 322.23 643.70 322.40 644.60 323.00 C645.50 323.60 645.57 324.75 645.40 326.00 C645.23 327.25 644.67 328.67 643.60 330.50 C642.53 332.33 641.02 334.29 639.00 337.00 C636.98 339.71 634.08 343.58 631.50 346.75 C628.92 349.92 625.42 353.58 623.50 356.00 C621.58 358.42 622.25 358.50 620.00 361.25 C617.75 364.00 613.33 368.96 610.00 372.50 C606.67 376.04 602.58 380.05 600.00 382.50 C597.42 384.95 596.18 385.90 594.50 387.20 C592.82 388.50 590.67 389.78 589.90 390.30 L590.38 390.30 L590.38 412.00 L564.10 412.00 Z" fill="#00FFE8"/>
<path d="M565.20 407.00 C565.29 405.22 565.35 399.75 565.75 396.30 C566.15 392.85 566.77 389.48 567.60 386.30 C568.43 383.12 569.39 380.17 570.75 377.20 C572.11 374.23 573.84 371.20 575.75 368.50 C577.66 365.80 579.91 363.28 582.20 361.00 C584.49 358.72 586.95 356.58 589.50 354.80 C592.05 353.02 595.12 351.38 597.50 350.30 C599.88 349.22 602.23 348.48 603.75 348.30 C605.27 348.12 606.16 348.42 606.60 349.20 C607.04 349.98 606.80 351.15 606.40 353.00 C606.00 354.85 605.27 357.55 604.20 360.30 C603.13 363.05 601.37 366.72 600.00 369.50 C598.63 372.28 597.23 374.58 596.00 377.00 C594.77 379.42 593.65 381.82 592.60 384.00 C591.55 386.18 590.18 389.08 589.70 390.10 L590.38 390.10 L590.38 412.00 L565.20 412.00 Z" fill="#00FF8B"/>
<path d="M566.20 407.00 C566.30 405.22 566.38 399.60 566.80 396.30 C567.22 393.00 567.83 390.12 568.70 387.20 C569.57 384.28 570.62 381.52 572.00 378.80 C573.38 376.08 575.05 373.25 577.00 370.90 C578.95 368.55 581.68 366.02 583.70 364.70 C585.72 363.38 587.78 363.07 589.10 363.00 C590.42 362.93 591.12 363.13 591.60 364.25 C592.08 365.37 592.07 367.54 592.00 369.70 C591.93 371.86 591.55 374.57 591.20 377.20 C590.85 379.83 590.22 383.32 589.90 385.50 C589.58 387.68 589.40 389.50 589.30 390.30 L590.38 390.30 L590.38 412.00 L566.20 412.00 Z" fill="#00FF2E"/>
<path d="M567.20 407.00 C567.33 405.37 567.55 400.23 568.00 397.20 C568.45 394.17 569.02 391.38 569.90 388.80 C570.77 386.23 571.93 383.90 573.25 381.75 C574.57 379.60 576.34 377.36 577.80 375.90 C579.26 374.44 580.82 373.35 582.00 373.00 C583.18 372.65 584.13 372.97 584.90 373.80 C585.67 374.63 586.08 376.18 586.60 378.00 C587.12 379.82 587.58 382.68 588.00 384.70 C588.42 386.72 588.92 389.20 589.10 390.10 L590.38 390.10 L590.38 412.00 L567.20 412.00 Z" fill="#2EFF00"/>
<path d="M568.25 407.00 C568.39 405.50 568.61 400.75 569.10 398.00 C569.59 395.25 570.30 392.72 571.20 390.50 C572.10 388.28 573.33 386.30 574.50 384.70 C575.67 383.10 577.07 381.53 578.25 380.90 C579.43 380.27 580.56 380.42 581.60 380.90 C582.64 381.38 583.60 382.68 584.50 383.80 C585.40 384.92 586.23 386.53 587.00 387.60 C587.77 388.68 588.75 389.81 589.10 390.25 L590.38 390.25 L590.38 412.00 L568.25 412.00 Z" fill="#8BFF00"/>
<path d="M569.50 407.00 C569.63 405.63 569.82 401.20 570.30 398.80 C570.78 396.40 571.49 394.40 572.40 392.60 C573.31 390.80 574.63 389.05 575.75 388.00 C576.87 386.95 577.93 386.43 579.10 386.30 C580.27 386.17 581.62 386.75 582.80 387.20 C583.98 387.65 585.15 388.45 586.20 389.00 C587.25 389.55 588.62 390.25 589.10 390.50 L590.38 390.50 L590.38 412.00 L569.50 412.00 Z" fill="#E8FF00"/>
<path d="M572.40 407.00 C572.54 405.78 572.77 401.68 573.25 399.70 C573.73 397.72 574.39 396.28 575.30 395.10 C576.21 393.92 577.30 393.12 578.70 392.60 C580.10 392.08 581.97 392.14 583.70 392.00 C585.43 391.86 588.20 391.79 589.10 391.75 L590.38 391.75 L590.38 412.00 L572.40 412.00 Z" fill="#FFB900"/>
<path d="M581.20 407.00 C581.40 406.12 581.72 403.12 582.40 401.75 C583.08 400.38 584.18 399.56 585.30 398.80 C586.42 398.04 588.47 397.47 589.10 397.20 L590.38 397.20 L590.38 412.00 L581.20 412.00 Z" fill="#FF5D00"/>
<rect x="589.38" y="390.35" width="34.35" height="17.65" fill="#fff" stroke="none"/>
</g>
<g stroke="#181818" stroke-width="1.0" fill="none">
<path d="M503.50 249.50 V406.00 H675.25"/>
<path d="M503.50 406.00 h4.20 M503.50 399.74 h2.40 M503.50 393.48 h2.40 M503.50 387.22 h2.40 M503.50 380.96 h2.40 M503.50 374.70 h4.20 M503.50 368.44 h2.40 M503.50 362.18 h2.40 M503.50 355.92 h2.40 M503.50 349.66 h2.40 M503.50 343.40 h4.20 M503.50 337.14 h2.40 M503.50 330.88 h2.40 M503.50 324.62 h2.40 M503.50 318.36 h2.40 M503.50 312.10 h4.20 M503.50 305.84 h2.40 M503.50 299.58 h2.40 M503.50 293.32 h2.40 M503.50 287.06 h2.40 M503.50 280.80 h4.20 M503.50 274.54 h2.40 M503.50 268.28 h2.40 M503.50 262.02 h2.40 M503.50 255.76 h2.40 M503.50 249.50 h4.20 M503.50 406.00 v-4.00 M510.37 406.00 v-2.20 M517.24 406.00 v-2.20 M524.11 406.00 v-2.20 M530.98 406.00 v-2.20 M537.85 406.00 v-4.00 M544.72 406.00 v-2.20 M551.59 406.00 v-2.20 M558.46 406.00 v-2.20 M565.33 406.00 v-2.20 M572.20 406.00 v-4.00 M579.07 406.00 v-2.20 M585.94 406.00 v-2.20 M592.81 406.00 v-2.20 M599.68 406.00 v-2.20 M606.55 406.00 v-4.00 M613.42 406.00 v-2.20 M620.29 406.00 v-2.20 M627.16 406.00 v-2.20 M634.03 406.00 v-2.20 M640.90 406.00 v-4.00 M647.77 406.00 v-2.20 M654.64 406.00 v-2.20 M661.51 406.00 v-2.20 M668.38 406.00 v-2.20 M675.25 406.00 v-4.00 " stroke-width="0.55" stroke="#1a1a1a"/>
</g>
<g fill="#151515" stroke="#151515" stroke-width="0.27">
<text transform="translate(500.90 409.30) scale(1 1.170)" font-size="7.20" text-anchor="end">0</text>
<text transform="translate(500.90 378.00) scale(1 1.170)" font-size="7.20" text-anchor="end">1</text>
<text transform="translate(500.90 346.70) scale(1 1.170)" font-size="7.20" text-anchor="end">2</text>
<text transform="translate(500.90 315.40) scale(1 1.170)" font-size="7.20" text-anchor="end">3</text>
<text transform="translate(500.90 284.10) scale(1 1.170)" font-size="7.20" text-anchor="end">4</text>
<text transform="translate(500.90 252.80) scale(1 1.170)" font-size="7.20" text-anchor="end">5</text>
<text transform="translate(503.50 414.20) scale(1 1.170)" font-size="7.20" text-anchor="middle">-3</text>
<text transform="translate(537.85 414.20) scale(1 1.170)" font-size="7.20" text-anchor="middle">-2</text>
<text transform="translate(572.20 414.20) scale(1 1.170)" font-size="7.20" text-anchor="middle">-1</text>
<text transform="translate(606.55 414.20) scale(1 1.170)" font-size="7.20" text-anchor="middle">0</text>
<text transform="translate(640.90 414.20) scale(1 1.170)" font-size="7.20" text-anchor="middle">1</text>
<text transform="translate(675.25 414.20) scale(1 1.170)" font-size="7.20" text-anchor="middle">2</text>
<text stroke-width="0.4" transform="translate(589.38 419.80) scale(1 1.170)" font-size="6.60" text-anchor="middle">X</text>
<text stroke-width="0.4" transform="translate(490.00 328.05) rotate(-90) scale(1 1.170)" font-size="6.60" text-anchor="middle">Y</text>
</g>
<rect x="496.75" y="224.25" width="8.68" height="10.25" fill="#0000FF"/>
<rect x="505.12" y="224.25" width="17.05" height="10.25" fill="#005DFF"/>
<rect x="521.88" y="224.25" width="17.05" height="10.25" fill="#00B9FF"/>
<rect x="538.62" y="224.25" width="17.05" height="10.25" fill="#00FFE8"/>
<rect x="555.38" y="224.25" width="17.05" height="10.25" fill="#00FF8B"/>
<rect x="572.12" y="224.25" width="17.05" height="10.25" fill="#00FF2E"/>
<rect x="588.88" y="224.25" width="17.05" height="10.25" fill="#2EFF00"/>
<rect x="605.62" y="224.25" width="17.05" height="10.25" fill="#8BFF00"/>
<rect x="622.38" y="224.25" width="17.05" height="10.25" fill="#E8FF00"/>
<rect x="639.12" y="224.25" width="17.05" height="10.25" fill="#FFB900"/>
<rect x="655.88" y="224.25" width="17.05" height="10.25" fill="#FF5D00"/>
<rect x="672.62" y="224.25" width="8.68" height="10.25" fill="#FF0000"/>
<path d="M496.75 224.25 H681.00 V234.50 H496.75 Z M505.12 224.25 V234.50 M521.88 224.25 V234.50 M538.62 224.25 V234.50 M555.38 224.25 V234.50 M572.12 224.25 V234.50 M588.88 224.25 V234.50 M605.62 224.25 V234.50 M622.38 224.25 V234.50 M639.12 224.25 V234.50 M655.88 224.25 V234.50 M672.62 224.25 V234.50 " stroke="#202020" stroke-width="0.5" fill="none"/>
<g fill="#151515" stroke="#151515" stroke-width="0.27">
<text transform="translate(505.12 243.70) scale(1 1.170)" font-size="7.20" text-anchor="middle">0</text>
<text transform="translate(521.88 243.70) scale(1 1.170)" font-size="7.20" text-anchor="middle">5.5</text>
<text transform="translate(538.62 243.70) scale(1 1.170)" font-size="7.20" text-anchor="middle">11</text>
<text transform="translate(555.38 243.70) scale(1 1.170)" font-size="7.20" text-anchor="middle">16.5</text>
<text transform="translate(572.12 243.70) scale(1 1.170)" font-size="7.20" text-anchor="middle">22</text>
<text transform="translate(588.88 243.70) scale(1 1.170)" font-size="7.20" text-anchor="middle">27.5</text>
<text transform="translate(605.62 243.70) scale(1 1.170)" font-size="7.20" text-anchor="middle">33</text>
<text transform="translate(622.38 243.70) scale(1 1.170)" font-size="7.20" text-anchor="middle">38.5</text>
<text transform="translate(639.12 243.70) scale(1 1.170)" font-size="7.20" text-anchor="middle">44</text>
<text transform="translate(655.88 243.70) scale(1 1.170)" font-size="7.20" text-anchor="middle">49.5</text>
<text transform="translate(672.62 243.70) scale(1 1.170)" font-size="7.20" text-anchor="middle">55</text>
<text transform="translate(486.50 243.70) scale(1 1.170)" font-size="7.20">P:</text>
</g>
<clipPath id="clip_c3"><rect x="503.50" y="453.75" width="171.75" height="156.95"/></clipPath>
<rect x="503.50" y="453.75" width="171.75" height="156.95" fill="#005DFF"/>
<g clip-path="url(#clip_c3)" stroke="#101010" stroke-width="0.45" stroke-linejoin="round">
<path d="M563.00 611.50 C563.08 609.80 563.13 604.67 563.50 601.30 C563.87 597.93 564.41 594.48 565.20 591.30 C565.99 588.12 566.98 585.25 568.25 582.20 C569.52 579.15 571.06 575.92 572.80 573.00 C574.54 570.08 576.67 567.07 578.70 564.70 C580.73 562.33 582.28 561.38 585.00 558.80 C587.72 556.22 591.25 552.58 595.00 549.20 C598.75 545.82 603.33 541.98 607.50 538.50 C611.67 535.02 615.83 531.52 620.00 528.30 C624.17 525.08 628.92 521.78 632.50 519.20 C636.08 516.62 637.92 515.03 641.50 512.80 C645.08 510.57 649.83 507.95 654.00 505.80 C658.17 503.65 662.79 501.60 666.50 499.90 C670.21 498.20 674.62 496.32 676.25 495.60 L681.25 495.60 L681.25 552.50 L676.25 552.50 C675.38 553.12 673.71 554.48 671.00 556.25 C668.29 558.02 663.71 560.71 660.00 563.10 C656.29 565.49 652.50 568.10 648.75 570.60 C645.00 573.10 640.83 575.80 637.50 578.10 C634.17 580.40 631.15 582.52 628.75 584.40 C626.35 586.28 624.56 587.67 623.10 589.40 C621.64 591.12 620.55 593.48 620.00 594.75 C619.45 596.02 619.83 596.62 619.80 597.00 L619.80 616.70 L563.00 616.70 Z" fill="#00B9FF"/>
<path d="M564.10 611.50 C564.20 609.80 564.32 604.67 564.70 601.30 C565.08 597.93 565.57 594.48 566.40 591.30 C567.23 588.12 568.35 585.20 569.70 582.20 C571.05 579.20 572.66 576.08 574.50 573.30 C576.34 570.52 578.60 567.92 580.75 565.50 C582.90 563.08 584.61 561.33 587.40 558.80 C590.19 556.27 593.73 553.38 597.50 550.30 C601.27 547.22 605.83 543.28 610.00 540.30 C614.17 537.32 618.33 534.66 622.50 532.40 C626.67 530.14 631.25 528.22 635.00 526.75 C638.75 525.28 642.46 524.33 645.00 523.60 C647.54 522.88 648.43 522.60 650.25 522.40 C652.07 522.20 654.61 521.98 655.90 522.40 C657.19 522.82 657.90 523.76 658.00 524.90 C658.10 526.04 657.58 527.48 656.50 529.25 C655.42 531.02 653.00 533.79 651.50 535.50 C650.00 537.21 649.42 537.67 647.50 539.50 C645.58 541.33 642.04 544.50 640.00 546.50 C637.96 548.50 636.92 549.83 635.25 551.50 C633.58 553.17 632.54 553.83 630.00 556.50 C627.46 559.17 623.33 563.90 620.00 567.50 C616.67 571.10 613.33 574.77 610.00 578.10 C606.67 581.43 602.58 585.15 600.00 587.50 C597.42 589.85 596.18 590.97 594.50 592.20 C592.82 593.43 590.67 594.45 589.90 594.90 L590.38 594.90 L590.38 616.70 L564.10 616.70 Z" fill="#00FFE8"/>
<path d="M565.20 611.50 C565.30 609.80 565.38 604.67 565.80 601.30 C566.22 597.93 566.83 594.48 567.70 591.30 C568.57 588.12 569.58 585.20 571.00 582.20 C572.42 579.20 574.28 576.00 576.20 573.30 C578.12 570.60 580.20 568.25 582.50 566.00 C584.80 563.75 587.29 561.76 590.00 559.80 C592.71 557.84 595.83 556.01 598.75 554.25 C601.67 552.49 605.21 550.33 607.50 549.25 C609.79 548.17 611.21 547.79 612.50 547.75 C613.79 547.71 614.73 548.29 615.25 549.00 C615.77 549.71 616.06 550.42 615.60 552.00 C615.14 553.58 613.77 556.17 612.50 558.50 C611.23 560.83 609.67 563.33 608.00 566.00 C606.33 568.67 604.33 571.75 602.50 574.50 C600.67 577.25 598.62 580.00 597.00 582.50 C595.38 585.00 594.02 587.47 592.80 589.50 C591.58 591.53 590.22 593.83 589.70 594.70 L590.38 594.70 L590.38 616.70 L565.20 616.70 Z" fill="#00FF8B"/>
<path d="M566.20 611.50 C566.30 609.80 566.37 604.52 566.80 601.30 C567.23 598.08 567.87 595.25 568.80 592.20 C569.73 589.15 570.90 586.07 572.40 583.00 C573.90 579.93 575.78 576.47 577.80 573.80 C579.82 571.13 582.47 568.59 584.50 567.00 C586.53 565.41 588.35 564.96 590.00 564.25 C591.65 563.54 593.27 562.88 594.40 562.75 C595.53 562.62 596.30 562.96 596.80 563.50 C597.30 564.04 597.43 564.70 597.40 566.00 C597.37 567.30 597.08 569.17 596.60 571.30 C596.12 573.43 595.27 576.15 594.50 578.80 C593.73 581.45 592.77 584.83 592.00 587.20 C591.23 589.57 590.35 591.72 589.90 593.00 C589.45 594.28 589.40 594.58 589.30 594.90 L590.38 594.90 L590.38 616.70 L566.20 616.70 Z" fill="#00FF2E"/>
<path d="M567.20 611.50 C567.33 609.95 567.50 605.15 568.00 602.20 C568.50 599.25 569.25 596.45 570.20 593.80 C571.15 591.15 572.36 588.65 573.70 586.30 C575.04 583.95 576.73 581.71 578.25 579.70 C579.77 577.69 581.47 575.43 582.80 574.25 C584.12 573.07 585.25 572.52 586.20 572.60 C587.15 572.68 588.02 573.38 588.50 574.70 C588.98 576.02 589.00 578.28 589.10 580.50 C589.20 582.72 589.08 585.63 589.10 588.00 C589.12 590.37 589.18 593.58 589.20 594.70 L590.38 594.70 L590.38 616.70 L567.20 616.70 Z" fill="#2EFF00"/>
<path d="M568.25 611.50 C568.39 610.02 568.61 605.27 569.10 602.60 C569.59 599.93 570.30 597.80 571.20 595.50 C572.10 593.20 573.33 590.82 574.50 588.80 C575.67 586.78 577.07 584.85 578.25 583.40 C579.43 581.95 580.49 580.30 581.60 580.10 C582.71 579.90 584.00 581.02 584.90 582.20 C585.80 583.38 586.40 585.53 587.00 587.20 C587.60 588.87 588.15 590.93 588.50 592.20 C588.85 593.47 589.00 594.37 589.10 594.80 L590.38 594.80 L590.38 616.70 L568.25 616.70 Z" fill="#8BFF00"/>
<path d="M569.50 611.50 C569.63 610.08 569.82 605.53 570.30 603.00 C570.78 600.47 571.53 598.32 572.40 596.30 C573.27 594.28 574.38 592.49 575.50 590.90 C576.62 589.31 577.95 587.37 579.10 586.75 C580.25 586.13 581.29 586.58 582.40 587.20 C583.51 587.83 584.82 589.47 585.75 590.50 C586.68 591.53 587.44 592.67 588.00 593.40 C588.56 594.13 588.92 594.65 589.10 594.90 L590.38 594.90 L590.38 616.70 L569.50 616.70 Z" fill="#E8FF00"/>
<path d="M571.20 611.50 C571.30 610.22 571.38 605.98 571.80 603.80 C572.22 601.62 572.90 600.07 573.70 598.40 C574.50 596.73 575.63 594.91 576.60 593.80 C577.57 592.69 578.39 592.02 579.50 591.75 C580.61 591.48 582.07 591.86 583.25 592.20 C584.43 592.54 585.62 593.29 586.60 593.80 C587.58 594.31 588.68 595.01 589.10 595.25 L590.38 595.25 L590.38 616.70 L571.20 616.70 Z" fill="#FFB900"/>
<path d="M572.80 611.50 C572.95 610.37 573.21 606.60 573.70 604.70 C574.19 602.80 574.85 601.35 575.75 600.10 C576.65 598.85 577.77 597.90 579.10 597.20 C580.43 596.50 582.03 596.15 583.70 595.90 C585.37 595.65 588.20 595.73 589.10 595.70 L590.38 595.70 L590.38 616.70 L572.80 616.70 Z" fill="#FF5D00"/>
<path d="M577.80 611.50 C577.95 610.57 578.13 607.45 578.70 605.90 C579.27 604.35 580.17 603.17 581.20 602.20 C582.23 601.23 583.58 600.59 584.90 600.10 C586.22 599.61 588.40 599.39 589.10 599.25 L590.38 599.25 L590.38 616.70 L577.80 616.70 Z" fill="#FF0000"/>
<rect x="589.38" y="595.00" width="34.35" height="17.70" fill="#fff" stroke="none"/>
</g>
<g stroke="#181818" stroke-width="1.0" fill="none">
<path d="M503.50 453.75 V610.70 H675.25"/>
<path d="M503.50 610.70 h4.20 M503.50 604.42 h2.40 M503.50 598.14 h2.40 M503.50 591.87 h2.40 M503.50 585.59 h2.40 M503.50 579.31 h4.20 M503.50 573.03 h2.40 M503.50 566.75 h2.40 M503.50 560.48 h2.40 M503.50 554.20 h2.40 M503.50 547.92 h4.20 M503.50 541.64 h2.40 M503.50 535.36 h2.40 M503.50 529.09 h2.40 M503.50 522.81 h2.40 M503.50 516.53 h4.20 M503.50 510.25 h2.40 M503.50 503.97 h2.40 M503.50 497.70 h2.40 M503.50 491.42 h2.40 M503.50 485.14 h4.20 M503.50 478.86 h2.40 M503.50 472.58 h2.40 M503.50 466.31 h2.40 M503.50 460.03 h2.40 M503.50 453.75 h4.20 M503.50 610.70 v-4.00 M510.37 610.70 v-2.20 M517.24 610.70 v-2.20 M524.11 610.70 v-2.20 M530.98 610.70 v-2.20 M537.85 610.70 v-4.00 M544.72 610.70 v-2.20 M551.59 610.70 v-2.20 M558.46 610.70 v-2.20 M565.33 610.70 v-2.20 M572.20 610.70 v-4.00 M579.07 610.70 v-2.20 M585.94 610.70 v-2.20 M592.81 610.70 v-2.20 M599.68 610.70 v-2.20 M606.55 610.70 v-4.00 M613.42 610.70 v-2.20 M620.29 610.70 v-2.20 M627.16 610.70 v-2.20 M634.03 610.70 v-2.20 M640.90 610.70 v-4.00 M647.77 610.70 v-2.20 M654.64 610.70 v-2.20 M661.51 610.70 v-2.20 M668.38 610.70 v-2.20 M675.25 610.70 v-4.00 " stroke-width="0.55" stroke="#1a1a1a"/>
</g>
<g fill="#151515" stroke="#151515" stroke-width="0.27">
<text transform="translate(500.90 614.00) scale(1 1.170)" font-size="7.20" text-anchor="end">0</text>
<text transform="translate(500.90 582.61) scale(1 1.170)" font-size="7.20" text-anchor="end">1</text>
<text transform="translate(500.90 551.22) scale(1 1.170)" font-size="7.20" text-anchor="end">2</text>
<text transform="translate(500.90 519.83) scale(1 1.170)" font-size="7.20" text-anchor="end">3</text>
<text transform="translate(500.90 488.44) scale(1 1.170)" font-size="7.20" text-anchor="end">4</text>
<text transform="translate(500.90 457.05) scale(1 1.170)" font-size="7.20" text-anchor="end">5</text>
<text transform="translate(503.50 618.90) scale(1 1.170)" font-size="7.20" text-anchor="middle">-3</text>
<text transform="translate(537.85 618.90) scale(1 1.170)" font-size="7.20" text-anchor="middle">-2</text>
<text transform="translate(572.20 618.90) scale(1 1.170)" font-size="7.20" text-anchor="middle">-1</text>
<text transform="translate(606.55 618.90) scale(1 1.170)" font-size="7.20" text-anchor="middle">0</text>
<text transform="translate(640.90 618.90) scale(1 1.170)" font-size="7.20" text-anchor="middle">1</text>
<text transform="translate(675.25 618.90) scale(1 1.170)" font-size="7.20" text-anchor="middle">2</text>
<text stroke-width="0.4" transform="translate(589.38 624.50) scale(1 1.170)" font-size="6.60" text-anchor="middle">X</text>
<text stroke-width="0.4" transform="translate(490.00 532.52) rotate(-90) scale(1 1.170)" font-size="6.60" text-anchor="middle">Y</text>
</g>
<rect x="500.00" y="428.75" width="8.66" height="10.25" fill="#0000FF"/>
<rect x="508.36" y="428.75" width="17.03" height="10.25" fill="#005DFF"/>
<rect x="525.09" y="428.75" width="17.03" height="10.25" fill="#00B9FF"/>
<rect x="541.82" y="428.75" width="17.03" height="10.25" fill="#00FFE8"/>
<rect x="558.55" y="428.75" width="17.03" height="10.25" fill="#00FF8B"/>
<rect x="575.27" y="428.75" width="17.03" height="10.25" fill="#00FF2E"/>
<rect x="592.00" y="428.75" width="17.03" height="10.25" fill="#2EFF00"/>
<rect x="608.73" y="428.75" width="17.03" height="10.25" fill="#8BFF00"/>
<rect x="625.45" y="428.75" width="17.03" height="10.25" fill="#E8FF00"/>
<rect x="642.18" y="428.75" width="17.03" height="10.25" fill="#FFB900"/>
<rect x="658.91" y="428.75" width="17.03" height="10.25" fill="#FF5D00"/>
<rect x="675.64" y="428.75" width="8.66" height="10.25" fill="#FF0000"/>
<path d="M500.00 428.75 H684.00 V439.00 H500.00 Z M508.36 428.75 V439.00 M525.09 428.75 V439.00 M541.82 428.75 V439.00 M558.55 428.75 V439.00 M575.27 428.75 V439.00 M592.00 428.75 V439.00 M608.73 428.75 V439.00 M625.45 428.75 V439.00 M642.18 428.75 V439.00 M658.91 428.75 V439.00 M675.64 428.75 V439.00 " stroke="#202020" stroke-width="0.5" fill="none"/>
<g fill="#151515" stroke="#151515" stroke-width="0.27">
<text transform="translate(508.36 448.20) scale(1 1.170)" font-size="7.20" text-anchor="middle">0</text>
<text transform="translate(525.09 448.20) scale(1 1.170)" font-size="7.20" text-anchor="middle">6.5</text>
<text transform="translate(541.82 448.20) scale(1 1.170)" font-size="7.20" text-anchor="middle">13</text>
<text transform="translate(558.55 448.20) scale(1 1.170)" font-size="7.20" text-anchor="middle">19.5</text>
<text transform="translate(575.27 448.20) scale(1 1.170)" font-size="7.20" text-anchor="middle">26</text>
<text transform="translate(592.00 448.20) scale(1 1.170)" font-size="7.20" text-anchor="middle">32.5</text>
<text transform="translate(608.73 448.20) scale(1 1.170)" font-size="7.20" text-anchor="middle">39</text>
<text transform="translate(625.45 448.20) scale(1 1.170)" font-size="7.20" text-anchor="middle">45.5</text>
<text transform="translate(642.18 448.20) scale(1 1.170)" font-size="7.20" text-anchor="middle">52</text>
<text transform="translate(658.91 448.20) scale(1 1.170)" font-size="7.20" text-anchor="middle">58.5</text>
<text transform="translate(675.64 448.20) scale(1 1.170)" font-size="7.20" text-anchor="middle">65</text>
<text transform="translate(489.00 448.20) scale(1 1.170)" font-size="7.20">P:</text>
</g>
<g class="pl">
<text x="-0.3" y="16.0">a</text><text x="226.7" y="16.1" style="font-size:21.8px">b</text><text x="463.7" y="16.3">c</text></g>
</svg></body></html>
